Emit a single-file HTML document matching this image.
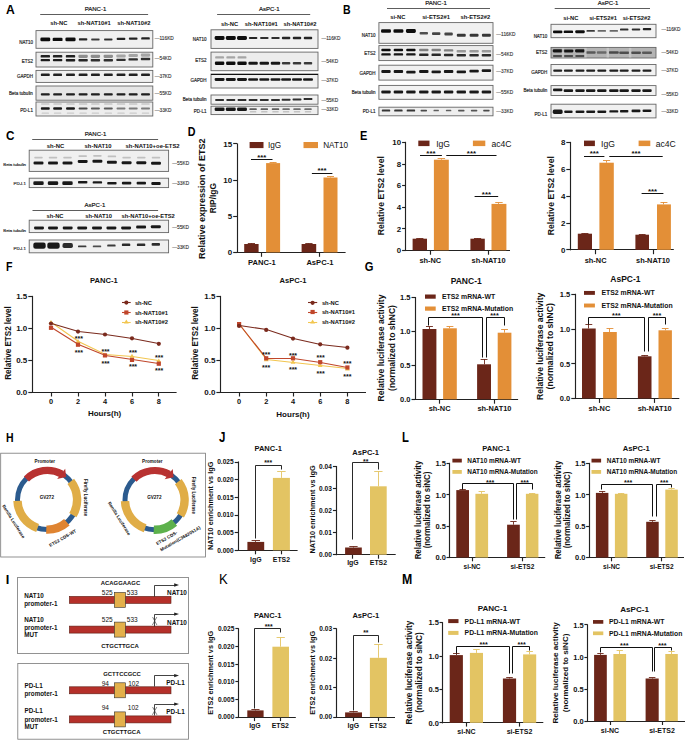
<!DOCTYPE html>
<html><head><meta charset="utf-8"><style>
html,body{margin:0;padding:0;background:#fff;}
svg{display:block;}
text{font-family:"Liberation Sans",sans-serif;}
</style></head><body>
<svg width="685" height="740" viewBox="0 0 685 740">
<rect width="685" height="740" fill="#fff"/>
<filter id="bl" x="-30%" y="-100%" width="160%" height="300%"><feGaussianBlur stdDeviation="0.65"/></filter>
<text x="95.50" y="10.76" font-size="6.0" font-weight="normal" text-anchor="middle" fill="#111" stroke="#111" stroke-width="0.18">PANC-1</text>
<line x1="40.20" y1="14.50" x2="148.10" y2="14.50" stroke="#333" stroke-width="0.8"/>
<text x="58.90" y="24.99" font-size="5.8" font-weight="bold" text-anchor="middle" fill="#111" >sh-NC</text>
<text x="94.10" y="24.99" font-size="5.8" font-weight="bold" text-anchor="middle" fill="#111" >sh-NAT10#1</text>
<text x="133.90" y="24.99" font-size="5.8" font-weight="bold" text-anchor="middle" fill="#111" >sh-NAT10#2</text>
<rect x="36.00" y="30.60" width="116.80" height="17.70" fill="#f0f0f0" stroke="#666" stroke-width="0.9" />
<rect x="40.35" y="37.60" width="9.90" height="3.60" rx="1.29" fill="#111" opacity="1" filter="url(#bl)"/>
<rect x="52.65" y="37.70" width="9.90" height="3.40" rx="1.21" fill="#111" opacity="1" filter="url(#bl)"/>
<rect x="65.40" y="37.50" width="10.20" height="3.80" rx="1.36" fill="#111" opacity="1" filter="url(#bl)"/>
<rect x="78.90" y="38.35" width="8.40" height="2.10" rx="0.75" fill="#111" opacity="0.9" filter="url(#bl)"/>
<rect x="91.20" y="38.40" width="8.40" height="2.00" rx="0.71" fill="#111" opacity="0.8" filter="url(#bl)"/>
<rect x="104.10" y="38.40" width="8.40" height="2.00" rx="0.71" fill="#111" opacity="0.85" filter="url(#bl)"/>
<rect x="116.70" y="37.80" width="8.60" height="2.20" rx="0.79" fill="#111" opacity="0.9" filter="url(#bl)"/>
<rect x="128.90" y="37.45" width="8.60" height="2.30" rx="0.82" fill="#111" opacity="0.9" filter="url(#bl)"/>
<rect x="141.20" y="37.20" width="8.60" height="2.40" rx="0.86" fill="#111" opacity="0.9" filter="url(#bl)"/>
<rect x="36.00" y="52.20" width="116.80" height="14.80" fill="#ececec" stroke="#666" stroke-width="0.9" />
<rect x="40.60" y="55.10" width="9.40" height="2.40" rx="0.86" fill="#222" opacity="1" filter="url(#bl)"/>
<rect x="52.90" y="55.10" width="9.40" height="2.40" rx="0.86" fill="#222" opacity="1" filter="url(#bl)"/>
<rect x="65.80" y="55.10" width="9.40" height="2.40" rx="0.86" fill="#222" opacity="1" filter="url(#bl)"/>
<rect x="78.40" y="54.70" width="9.40" height="3.20" rx="1.14" fill="#777" opacity="0.8" filter="url(#bl)"/>
<rect x="90.70" y="54.70" width="9.40" height="3.20" rx="1.14" fill="#777" opacity="0.8" filter="url(#bl)"/>
<rect x="103.60" y="54.70" width="9.40" height="3.20" rx="1.14" fill="#777" opacity="0.8" filter="url(#bl)"/>
<rect x="116.30" y="54.40" width="9.40" height="3.20" rx="1.14" fill="#888" opacity="0.7" filter="url(#bl)"/>
<rect x="128.50" y="53.90" width="9.40" height="3.20" rx="1.14" fill="#888" opacity="0.7" filter="url(#bl)"/>
<rect x="140.80" y="53.50" width="9.40" height="3.20" rx="1.14" fill="#888" opacity="0.7" filter="url(#bl)"/>
<rect x="40.60" y="59.10" width="9.40" height="2.20" rx="0.79" fill="#1a1a1a" opacity="1" filter="url(#bl)"/>
<rect x="52.90" y="59.10" width="9.40" height="2.20" rx="0.79" fill="#1a1a1a" opacity="1" filter="url(#bl)"/>
<rect x="65.80" y="59.00" width="9.40" height="2.40" rx="0.86" fill="#1a1a1a" opacity="1" filter="url(#bl)"/>
<rect x="78.40" y="59.00" width="9.40" height="2.40" rx="0.86" fill="#1a1a1a" opacity="0.95" filter="url(#bl)"/>
<rect x="90.70" y="59.00" width="9.40" height="2.40" rx="0.86" fill="#1a1a1a" opacity="0.9" filter="url(#bl)"/>
<rect x="103.60" y="59.00" width="9.40" height="2.40" rx="0.86" fill="#1a1a1a" opacity="0.9" filter="url(#bl)"/>
<rect x="116.30" y="58.80" width="9.40" height="2.20" rx="0.79" fill="#1a1a1a" opacity="0.9" filter="url(#bl)"/>
<rect x="128.50" y="58.20" width="9.40" height="2.40" rx="0.86" fill="#1a1a1a" opacity="0.9" filter="url(#bl)"/>
<rect x="140.80" y="57.80" width="9.40" height="2.40" rx="0.86" fill="#1a1a1a" opacity="0.9" filter="url(#bl)"/>
<rect x="36.00" y="70.40" width="116.80" height="12.00" fill="#f0f0f0" stroke="#666" stroke-width="0.9" />
<rect x="40.85" y="73.55" width="8.90" height="2.50" rx="0.89" fill="#151515" opacity="0.95" filter="url(#bl)"/>
<rect x="53.15" y="73.55" width="8.90" height="2.50" rx="0.89" fill="#151515" opacity="0.95" filter="url(#bl)"/>
<rect x="66.05" y="73.55" width="8.90" height="2.50" rx="0.89" fill="#151515" opacity="0.95" filter="url(#bl)"/>
<rect x="78.65" y="73.55" width="8.90" height="2.50" rx="0.89" fill="#151515" opacity="0.95" filter="url(#bl)"/>
<rect x="90.95" y="73.55" width="8.90" height="2.50" rx="0.89" fill="#151515" opacity="0.95" filter="url(#bl)"/>
<rect x="103.85" y="73.55" width="8.90" height="2.50" rx="0.89" fill="#151515" opacity="0.95" filter="url(#bl)"/>
<rect x="116.55" y="73.55" width="8.90" height="2.50" rx="0.89" fill="#151515" opacity="0.95" filter="url(#bl)"/>
<rect x="128.75" y="73.55" width="8.90" height="2.50" rx="0.89" fill="#151515" opacity="0.95" filter="url(#bl)"/>
<rect x="141.05" y="73.55" width="8.90" height="2.50" rx="0.89" fill="#151515" opacity="0.95" filter="url(#bl)"/>
<rect x="36.00" y="86.00" width="116.80" height="14.20" fill="#e6e6e6" stroke="#666" stroke-width="0.9" />
<rect x="40.85" y="93.15" width="8.90" height="2.30" rx="0.82" fill="#151515" opacity="0.95" filter="url(#bl)"/>
<rect x="53.15" y="93.15" width="8.90" height="2.30" rx="0.82" fill="#151515" opacity="0.95" filter="url(#bl)"/>
<rect x="66.05" y="93.15" width="8.90" height="2.30" rx="0.82" fill="#151515" opacity="0.95" filter="url(#bl)"/>
<rect x="78.65" y="93.15" width="8.90" height="2.30" rx="0.82" fill="#151515" opacity="0.95" filter="url(#bl)"/>
<rect x="90.95" y="93.15" width="8.90" height="2.30" rx="0.82" fill="#151515" opacity="0.95" filter="url(#bl)"/>
<rect x="103.85" y="93.15" width="8.90" height="2.30" rx="0.82" fill="#151515" opacity="0.95" filter="url(#bl)"/>
<rect x="116.55" y="93.15" width="8.90" height="2.30" rx="0.82" fill="#151515" opacity="0.95" filter="url(#bl)"/>
<rect x="128.75" y="93.15" width="8.90" height="2.30" rx="0.82" fill="#151515" opacity="0.95" filter="url(#bl)"/>
<rect x="141.05" y="93.15" width="8.90" height="2.30" rx="0.82" fill="#151515" opacity="0.95" filter="url(#bl)"/>
<rect x="36.00" y="102.00" width="116.80" height="14.00" fill="#ededed" stroke="#666" stroke-width="0.9" />
<rect x="41.10" y="103.25" width="8.40" height="1.50" rx="0.54" fill="#999" opacity="0.45" filter="url(#bl)"/>
<rect x="53.40" y="103.25" width="8.40" height="1.50" rx="0.54" fill="#999" opacity="0.45" filter="url(#bl)"/>
<rect x="66.30" y="103.25" width="8.40" height="1.50" rx="0.54" fill="#999" opacity="0.45" filter="url(#bl)"/>
<rect x="78.90" y="103.25" width="8.40" height="1.50" rx="0.54" fill="#999" opacity="0.45" filter="url(#bl)"/>
<rect x="91.20" y="103.25" width="8.40" height="1.50" rx="0.54" fill="#999" opacity="0.45" filter="url(#bl)"/>
<rect x="104.10" y="103.25" width="8.40" height="1.50" rx="0.54" fill="#999" opacity="0.45" filter="url(#bl)"/>
<rect x="116.80" y="103.25" width="8.40" height="1.50" rx="0.54" fill="#999" opacity="0.45" filter="url(#bl)"/>
<rect x="129.00" y="103.25" width="8.40" height="1.50" rx="0.54" fill="#999" opacity="0.45" filter="url(#bl)"/>
<rect x="141.30" y="103.25" width="8.40" height="1.50" rx="0.54" fill="#999" opacity="0.45" filter="url(#bl)"/>
<rect x="40.85" y="107.20" width="8.90" height="2.60" rx="0.93" fill="#111" opacity="0.95" filter="url(#bl)"/>
<rect x="53.15" y="107.20" width="8.90" height="2.60" rx="0.93" fill="#111" opacity="0.95" filter="url(#bl)"/>
<rect x="66.05" y="107.20" width="8.90" height="2.60" rx="0.93" fill="#111" opacity="0.95" filter="url(#bl)"/>
<rect x="78.65" y="107.40" width="8.90" height="2.20" rx="0.79" fill="#444" opacity="0.95" filter="url(#bl)"/>
<rect x="90.95" y="107.40" width="8.90" height="2.20" rx="0.79" fill="#555" opacity="0.95" filter="url(#bl)"/>
<rect x="103.85" y="107.40" width="8.90" height="2.20" rx="0.79" fill="#555" opacity="0.95" filter="url(#bl)"/>
<rect x="116.55" y="107.50" width="8.90" height="2.00" rx="0.71" fill="#777" opacity="0.95" filter="url(#bl)"/>
<rect x="128.75" y="107.50" width="8.90" height="2.00" rx="0.71" fill="#777" opacity="0.95" filter="url(#bl)"/>
<rect x="141.05" y="107.50" width="8.90" height="2.00" rx="0.71" fill="#777" opacity="0.95" filter="url(#bl)"/>
<rect x="41.60" y="112.55" width="7.40" height="1.30" rx="0.46" fill="#999" opacity="0.4" filter="url(#bl)"/>
<rect x="53.90" y="112.55" width="7.40" height="1.30" rx="0.46" fill="#999" opacity="0.4" filter="url(#bl)"/>
<rect x="66.80" y="112.55" width="7.40" height="1.30" rx="0.46" fill="#999" opacity="0.4" filter="url(#bl)"/>
<rect x="79.40" y="112.55" width="7.40" height="1.30" rx="0.46" fill="#999" opacity="0.4" filter="url(#bl)"/>
<rect x="91.70" y="112.55" width="7.40" height="1.30" rx="0.46" fill="#999" opacity="0.4" filter="url(#bl)"/>
<rect x="104.60" y="112.55" width="7.40" height="1.30" rx="0.46" fill="#999" opacity="0.4" filter="url(#bl)"/>
<rect x="117.30" y="112.55" width="7.40" height="1.30" rx="0.46" fill="#999" opacity="0.4" filter="url(#bl)"/>
<rect x="129.50" y="112.55" width="7.40" height="1.30" rx="0.46" fill="#999" opacity="0.4" filter="url(#bl)"/>
<rect x="141.80" y="112.55" width="7.40" height="1.30" rx="0.46" fill="#999" opacity="0.4" filter="url(#bl)"/>
<text x="32.90" y="43.82" font-size="4.5" font-weight="normal" text-anchor="end" fill="#222" stroke="#222" stroke-width="0.16">NAT10</text>
<text x="32.90" y="62.62" font-size="4.5" font-weight="normal" text-anchor="end" fill="#222" stroke="#222" stroke-width="0.16">ETS2</text>
<text x="32.90" y="78.12" font-size="4.5" font-weight="normal" text-anchor="end" fill="#222" stroke="#222" stroke-width="0.16">GAPDH</text>
<text x="32.90" y="95.12" font-size="4.5" font-weight="normal" text-anchor="end" fill="#222" stroke="#222" stroke-width="0.16">Beta tubulin</text>
<text x="32.90" y="112.22" font-size="4.5" font-weight="normal" text-anchor="end" fill="#222" stroke="#222" stroke-width="0.16">PD-L1</text>
<text x="154.70" y="40.43" font-size="4.8" font-weight="normal" text-anchor="start" fill="#333" stroke="#333" stroke-width="0.12">—116KD</text>
<text x="154.70" y="59.93" font-size="4.8" font-weight="normal" text-anchor="start" fill="#333" stroke="#333" stroke-width="0.12">—54KD</text>
<text x="154.70" y="77.83" font-size="4.8" font-weight="normal" text-anchor="start" fill="#333" stroke="#333" stroke-width="0.12">—37KD</text>
<text x="154.70" y="95.23" font-size="4.8" font-weight="normal" text-anchor="start" fill="#333" stroke="#333" stroke-width="0.12">—55KD</text>
<text x="154.70" y="111.53" font-size="4.8" font-weight="normal" text-anchor="start" fill="#333" stroke="#333" stroke-width="0.12">—33KD</text>
<text x="269.30" y="10.56" font-size="6.0" font-weight="normal" text-anchor="middle" fill="#111" stroke="#111" stroke-width="0.18">AsPC-1</text>
<line x1="217.10" y1="14.50" x2="310.20" y2="14.50" stroke="#333" stroke-width="0.8"/>
<text x="229.60" y="26.09" font-size="5.8" font-weight="bold" text-anchor="middle" fill="#111" >sh-NC</text>
<text x="261.30" y="26.09" font-size="5.8" font-weight="bold" text-anchor="middle" fill="#111" >sh-NAT10#1</text>
<text x="300.00" y="26.09" font-size="5.8" font-weight="bold" text-anchor="middle" fill="#111" >sh-NAT10#2</text>
<rect x="211.00" y="29.80" width="107.00" height="18.60" fill="#f0f0f0" stroke="#666" stroke-width="0.9" />
<rect x="214.65" y="36.00" width="9.90" height="4.00" rx="1.43" fill="#111" opacity="1" filter="url(#bl)"/>
<rect x="225.85" y="36.00" width="9.90" height="4.00" rx="1.43" fill="#111" opacity="1" filter="url(#bl)"/>
<rect x="237.05" y="36.00" width="9.90" height="4.00" rx="1.43" fill="#111" opacity="1" filter="url(#bl)"/>
<rect x="248.90" y="36.90" width="8.40" height="2.20" rx="0.79" fill="#111" opacity="0.9" filter="url(#bl)"/>
<rect x="260.10" y="36.90" width="8.40" height="2.20" rx="0.79" fill="#111" opacity="0.85" filter="url(#bl)"/>
<rect x="271.30" y="36.90" width="8.40" height="2.20" rx="0.79" fill="#111" opacity="0.85" filter="url(#bl)"/>
<rect x="281.90" y="36.80" width="8.40" height="2.40" rx="0.86" fill="#111" opacity="0.9" filter="url(#bl)"/>
<rect x="292.80" y="36.80" width="8.40" height="2.40" rx="0.86" fill="#111" opacity="0.9" filter="url(#bl)"/>
<rect x="303.80" y="36.80" width="8.40" height="2.40" rx="0.86" fill="#111" opacity="0.9" filter="url(#bl)"/>
<rect x="211.00" y="52.10" width="107.00" height="18.60" fill="#ededed" stroke="#666" stroke-width="0.9" />
<rect x="215.15" y="56.20" width="8.90" height="2.40" rx="0.86" fill="#888" opacity="0.7" filter="url(#bl)"/>
<rect x="226.35" y="56.20" width="8.90" height="2.40" rx="0.86" fill="#888" opacity="0.7" filter="url(#bl)"/>
<rect x="237.55" y="56.20" width="8.90" height="2.40" rx="0.86" fill="#888" opacity="0.7" filter="url(#bl)"/>
<rect x="214.90" y="61.50" width="9.40" height="3.40" rx="1.21" fill="#111" opacity="1" filter="url(#bl)"/>
<rect x="226.10" y="61.50" width="9.40" height="3.40" rx="1.21" fill="#111" opacity="1" filter="url(#bl)"/>
<rect x="237.30" y="61.50" width="9.40" height="3.40" rx="1.21" fill="#111" opacity="1" filter="url(#bl)"/>
<rect x="248.40" y="61.70" width="9.40" height="3.00" rx="1.07" fill="#111" opacity="0.95" filter="url(#bl)"/>
<rect x="259.60" y="61.70" width="9.40" height="3.00" rx="1.07" fill="#111" opacity="0.95" filter="url(#bl)"/>
<rect x="270.80" y="61.70" width="9.40" height="3.00" rx="1.07" fill="#111" opacity="0.95" filter="url(#bl)"/>
<rect x="281.90" y="61.90" width="8.40" height="2.60" rx="0.93" fill="#111" opacity="0.8" filter="url(#bl)"/>
<rect x="292.80" y="61.90" width="8.40" height="2.60" rx="0.93" fill="#111" opacity="0.8" filter="url(#bl)"/>
<rect x="303.80" y="61.90" width="8.40" height="2.60" rx="0.93" fill="#111" opacity="0.8" filter="url(#bl)"/>
<rect x="211.00" y="74.00" width="107.00" height="14.00" fill="#f0f0f0" stroke="#666" stroke-width="0.9" />
<line x1="211.00" y1="74.50" x2="318.00" y2="74.50" stroke="#111" stroke-width="1.2"/>
<rect x="214.65" y="77.90" width="9.90" height="3.00" rx="1.07" fill="#111" opacity="0.95" filter="url(#bl)"/>
<rect x="225.85" y="77.90" width="9.90" height="3.00" rx="1.07" fill="#111" opacity="0.95" filter="url(#bl)"/>
<rect x="237.05" y="77.90" width="9.90" height="3.00" rx="1.07" fill="#111" opacity="0.95" filter="url(#bl)"/>
<rect x="248.15" y="78.15" width="9.90" height="2.50" rx="0.89" fill="#111" opacity="0.95" filter="url(#bl)"/>
<rect x="259.35" y="78.15" width="9.90" height="2.50" rx="0.89" fill="#111" opacity="0.95" filter="url(#bl)"/>
<rect x="270.55" y="78.15" width="9.90" height="2.50" rx="0.89" fill="#111" opacity="0.95" filter="url(#bl)"/>
<rect x="281.15" y="78.15" width="9.90" height="2.50" rx="0.89" fill="#111" opacity="0.95" filter="url(#bl)"/>
<rect x="292.05" y="78.15" width="9.90" height="2.50" rx="0.89" fill="#111" opacity="0.95" filter="url(#bl)"/>
<rect x="303.05" y="78.15" width="9.90" height="2.50" rx="0.89" fill="#111" opacity="0.95" filter="url(#bl)"/>
<rect x="211.00" y="95.00" width="107.00" height="9.20" fill="#f2f2f2" stroke="#666" stroke-width="0.9" />
<rect x="215.15" y="99.00" width="8.90" height="2.00" rx="0.71" fill="#1a1a1a" opacity="0.9" filter="url(#bl)"/>
<rect x="226.35" y="99.00" width="8.90" height="2.00" rx="0.71" fill="#1a1a1a" opacity="0.9" filter="url(#bl)"/>
<rect x="237.55" y="99.00" width="8.90" height="2.00" rx="0.71" fill="#1a1a1a" opacity="0.9" filter="url(#bl)"/>
<rect x="248.65" y="99.00" width="8.90" height="2.00" rx="0.71" fill="#1a1a1a" opacity="0.9" filter="url(#bl)"/>
<rect x="259.85" y="99.00" width="8.90" height="2.00" rx="0.71" fill="#1a1a1a" opacity="0.9" filter="url(#bl)"/>
<rect x="271.05" y="99.00" width="8.90" height="2.00" rx="0.71" fill="#1a1a1a" opacity="0.9" filter="url(#bl)"/>
<rect x="281.65" y="98.70" width="8.90" height="2.00" rx="0.71" fill="#1a1a1a" opacity="0.9" filter="url(#bl)"/>
<rect x="292.55" y="98.50" width="8.90" height="2.00" rx="0.71" fill="#1a1a1a" opacity="0.9" filter="url(#bl)"/>
<rect x="303.55" y="98.00" width="8.90" height="2.00" rx="0.71" fill="#1a1a1a" opacity="0.9" filter="url(#bl)"/>
<rect x="211.00" y="106.20" width="107.00" height="8.40" fill="#eeeeee" stroke="#666" stroke-width="0.9" />
<rect x="214.65" y="107.40" width="9.90" height="3.60" rx="1.29" fill="#111" opacity="0.95" filter="url(#bl)"/>
<rect x="225.85" y="107.40" width="9.90" height="3.60" rx="1.29" fill="#111" opacity="0.95" filter="url(#bl)"/>
<rect x="237.05" y="107.40" width="9.90" height="3.60" rx="1.29" fill="#111" opacity="0.95" filter="url(#bl)"/>
<rect x="249.40" y="108.35" width="7.40" height="1.70" rx="0.61" fill="#555" opacity="0.95" filter="url(#bl)"/>
<rect x="260.60" y="108.35" width="7.40" height="1.70" rx="0.61" fill="#555" opacity="0.95" filter="url(#bl)"/>
<rect x="271.80" y="108.35" width="7.40" height="1.70" rx="0.61" fill="#555" opacity="0.95" filter="url(#bl)"/>
<rect x="282.40" y="108.35" width="7.40" height="1.70" rx="0.61" fill="#666" opacity="0.95" filter="url(#bl)"/>
<rect x="293.30" y="108.35" width="7.40" height="1.70" rx="0.61" fill="#666" opacity="0.95" filter="url(#bl)"/>
<rect x="304.30" y="108.35" width="7.40" height="1.70" rx="0.61" fill="#666" opacity="0.95" filter="url(#bl)"/>
<rect x="249.90" y="111.10" width="6.40" height="1.40" rx="0.50" fill="#999" opacity="0.5" filter="url(#bl)"/>
<rect x="261.10" y="111.10" width="6.40" height="1.40" rx="0.50" fill="#999" opacity="0.5" filter="url(#bl)"/>
<rect x="272.30" y="111.10" width="6.40" height="1.40" rx="0.50" fill="#999" opacity="0.5" filter="url(#bl)"/>
<rect x="282.90" y="111.10" width="6.40" height="1.40" rx="0.50" fill="#999" opacity="0.5" filter="url(#bl)"/>
<rect x="293.80" y="111.10" width="6.40" height="1.40" rx="0.50" fill="#999" opacity="0.5" filter="url(#bl)"/>
<rect x="304.80" y="111.10" width="6.40" height="1.40" rx="0.50" fill="#999" opacity="0.5" filter="url(#bl)"/>
<text x="206.50" y="40.62" font-size="4.5" font-weight="normal" text-anchor="end" fill="#222" stroke="#222" stroke-width="0.16">NAT10</text>
<text x="206.50" y="62.42" font-size="4.5" font-weight="normal" text-anchor="end" fill="#222" stroke="#222" stroke-width="0.16">ETS2</text>
<text x="206.50" y="81.52" font-size="4.5" font-weight="normal" text-anchor="end" fill="#222" stroke="#222" stroke-width="0.16">GAPDH</text>
<text x="206.50" y="101.42" font-size="4.5" font-weight="normal" text-anchor="end" fill="#222" stroke="#222" stroke-width="0.16">Beta tubulin</text>
<text x="206.50" y="112.52" font-size="4.5" font-weight="normal" text-anchor="end" fill="#222" stroke="#222" stroke-width="0.16">PD-L1</text>
<text x="321.40" y="39.73" font-size="4.8" font-weight="normal" text-anchor="start" fill="#333" stroke="#333" stroke-width="0.12">—116KD</text>
<text x="321.40" y="62.53" font-size="4.8" font-weight="normal" text-anchor="start" fill="#333" stroke="#333" stroke-width="0.12">—54KD</text>
<text x="321.40" y="82.33" font-size="4.8" font-weight="normal" text-anchor="start" fill="#333" stroke="#333" stroke-width="0.12">—37KD</text>
<text x="321.40" y="102.23" font-size="4.8" font-weight="normal" text-anchor="start" fill="#333" stroke="#333" stroke-width="0.12">—55KD</text>
<text x="321.40" y="110.93" font-size="4.8" font-weight="normal" text-anchor="start" fill="#333" stroke="#333" stroke-width="0.12">—33KD</text>
<text x="436.00" y="4.76" font-size="6.0" font-weight="normal" text-anchor="middle" fill="#111" stroke="#111" stroke-width="0.18">PANC-1</text>
<line x1="387.00" y1="8.50" x2="490.00" y2="8.50" stroke="#333" stroke-width="0.8"/>
<text x="397.80" y="19.09" font-size="5.8" font-weight="bold" text-anchor="middle" fill="#111" >si-NC</text>
<text x="436.00" y="19.09" font-size="5.8" font-weight="bold" text-anchor="middle" fill="#111" >si-ETS2#1</text>
<text x="475.30" y="19.09" font-size="5.8" font-weight="bold" text-anchor="middle" fill="#111" >sh-ETS2#2</text>
<rect x="378.90" y="22.60" width="114.10" height="20.70" fill="#f0f0f0" stroke="#666" stroke-width="0.9" />
<rect x="381.05" y="29.20" width="9.90" height="3.60" rx="1.29" fill="#111" opacity="1" filter="url(#bl)"/>
<rect x="393.45" y="29.30" width="9.90" height="3.40" rx="1.21" fill="#111" opacity="1" filter="url(#bl)"/>
<rect x="405.95" y="29.10" width="9.90" height="3.80" rx="1.36" fill="#111" opacity="1" filter="url(#bl)"/>
<rect x="419.60" y="31.90" width="8.40" height="2.60" rx="0.93" fill="#333" opacity="0.85" filter="url(#bl)"/>
<rect x="432.00" y="32.30" width="8.40" height="2.60" rx="0.93" fill="#333" opacity="0.9" filter="url(#bl)"/>
<rect x="444.40" y="32.60" width="8.40" height="2.80" rx="1.00" fill="#333" opacity="0.9" filter="url(#bl)"/>
<rect x="456.85" y="33.70" width="8.90" height="3.00" rx="1.07" fill="#222" opacity="0.9" filter="url(#bl)"/>
<rect x="469.65" y="33.80" width="8.90" height="3.00" rx="1.07" fill="#222" opacity="0.9" filter="url(#bl)"/>
<rect x="481.95" y="33.80" width="8.90" height="3.00" rx="1.07" fill="#222" opacity="0.9" filter="url(#bl)"/>
<rect x="378.90" y="45.60" width="114.10" height="15.00" fill="#ececec" stroke="#666" stroke-width="0.9" />
<rect x="381.30" y="48.70" width="9.40" height="2.60" rx="0.93" fill="#111" opacity="1" filter="url(#bl)"/>
<rect x="393.70" y="48.70" width="9.40" height="2.60" rx="0.93" fill="#111" opacity="1" filter="url(#bl)"/>
<rect x="406.20" y="48.70" width="9.40" height="2.60" rx="0.93" fill="#111" opacity="1" filter="url(#bl)"/>
<rect x="419.10" y="48.80" width="9.40" height="2.40" rx="0.86" fill="#666" opacity="0.8" filter="url(#bl)"/>
<rect x="431.50" y="48.80" width="9.40" height="2.40" rx="0.86" fill="#666" opacity="0.8" filter="url(#bl)"/>
<rect x="443.90" y="49.20" width="9.40" height="2.40" rx="0.86" fill="#666" opacity="0.8" filter="url(#bl)"/>
<rect x="456.60" y="50.00" width="9.40" height="2.40" rx="0.86" fill="#777" opacity="0.7" filter="url(#bl)"/>
<rect x="469.40" y="50.00" width="9.40" height="2.40" rx="0.86" fill="#777" opacity="0.7" filter="url(#bl)"/>
<rect x="481.70" y="50.00" width="9.40" height="2.40" rx="0.86" fill="#777" opacity="0.7" filter="url(#bl)"/>
<rect x="381.30" y="53.20" width="9.40" height="2.40" rx="0.86" fill="#151515" opacity="1" filter="url(#bl)"/>
<rect x="393.70" y="53.20" width="9.40" height="2.40" rx="0.86" fill="#151515" opacity="1" filter="url(#bl)"/>
<rect x="406.20" y="53.20" width="9.40" height="2.40" rx="0.86" fill="#151515" opacity="1" filter="url(#bl)"/>
<rect x="419.10" y="53.60" width="9.40" height="2.40" rx="0.86" fill="#151515" opacity="0.9" filter="url(#bl)"/>
<rect x="431.50" y="53.60" width="9.40" height="2.40" rx="0.86" fill="#151515" opacity="0.9" filter="url(#bl)"/>
<rect x="443.90" y="53.80" width="9.40" height="2.40" rx="0.86" fill="#151515" opacity="0.9" filter="url(#bl)"/>
<rect x="456.60" y="54.00" width="9.40" height="2.40" rx="0.86" fill="#151515" opacity="0.9" filter="url(#bl)"/>
<rect x="469.40" y="54.00" width="9.40" height="2.40" rx="0.86" fill="#151515" opacity="0.9" filter="url(#bl)"/>
<rect x="481.70" y="54.00" width="9.40" height="2.40" rx="0.86" fill="#151515" opacity="0.9" filter="url(#bl)"/>
<rect x="378.90" y="65.20" width="114.10" height="14.90" fill="#f0f0f0" stroke="#666" stroke-width="0.9" />
<rect x="381.30" y="70.10" width="9.40" height="2.80" rx="1.00" fill="#111" opacity="0.95" filter="url(#bl)"/>
<rect x="393.70" y="70.10" width="9.40" height="2.80" rx="1.00" fill="#111" opacity="0.95" filter="url(#bl)"/>
<rect x="406.20" y="70.70" width="9.40" height="2.80" rx="1.00" fill="#111" opacity="0.95" filter="url(#bl)"/>
<rect x="419.10" y="70.10" width="9.40" height="2.80" rx="1.00" fill="#111" opacity="0.95" filter="url(#bl)"/>
<rect x="431.50" y="70.50" width="9.40" height="2.80" rx="1.00" fill="#111" opacity="0.95" filter="url(#bl)"/>
<rect x="443.90" y="70.10" width="9.40" height="2.80" rx="1.00" fill="#111" opacity="0.95" filter="url(#bl)"/>
<rect x="456.60" y="70.50" width="9.40" height="2.80" rx="1.00" fill="#111" opacity="0.95" filter="url(#bl)"/>
<rect x="469.40" y="69.70" width="9.40" height="2.80" rx="1.00" fill="#111" opacity="0.95" filter="url(#bl)"/>
<rect x="481.70" y="69.30" width="9.40" height="2.80" rx="1.00" fill="#111" opacity="0.95" filter="url(#bl)"/>
<rect x="378.90" y="85.40" width="114.10" height="13.90" fill="#f2f2f2" stroke="#666" stroke-width="0.9" />
<rect x="381.30" y="90.60" width="9.40" height="2.80" rx="1.00" fill="#111" opacity="0.95" filter="url(#bl)"/>
<rect x="393.70" y="90.60" width="9.40" height="2.80" rx="1.00" fill="#111" opacity="0.95" filter="url(#bl)"/>
<rect x="406.20" y="90.60" width="9.40" height="2.80" rx="1.00" fill="#111" opacity="0.95" filter="url(#bl)"/>
<rect x="419.10" y="90.60" width="9.40" height="2.80" rx="1.00" fill="#111" opacity="0.95" filter="url(#bl)"/>
<rect x="431.50" y="90.60" width="9.40" height="2.80" rx="1.00" fill="#111" opacity="0.95" filter="url(#bl)"/>
<rect x="443.90" y="90.60" width="9.40" height="2.80" rx="1.00" fill="#111" opacity="0.95" filter="url(#bl)"/>
<rect x="456.60" y="90.60" width="9.40" height="2.80" rx="1.00" fill="#111" opacity="0.95" filter="url(#bl)"/>
<rect x="469.40" y="90.60" width="9.40" height="2.80" rx="1.00" fill="#111" opacity="0.95" filter="url(#bl)"/>
<rect x="481.70" y="90.60" width="9.40" height="2.80" rx="1.00" fill="#111" opacity="0.95" filter="url(#bl)"/>
<rect x="378.90" y="107.20" width="114.10" height="8.60" fill="#eeeeee" stroke="#666" stroke-width="0.9" />
<rect x="381.80" y="109.60" width="8.40" height="2.00" rx="0.71" fill="#222" opacity="0.9" filter="url(#bl)"/>
<rect x="394.20" y="109.60" width="8.40" height="2.00" rx="0.71" fill="#222" opacity="0.9" filter="url(#bl)"/>
<rect x="406.70" y="109.60" width="8.40" height="2.00" rx="0.71" fill="#222" opacity="0.9" filter="url(#bl)"/>
<rect x="420.60" y="109.70" width="6.40" height="1.80" rx="0.64" fill="#222" opacity="0.8" filter="url(#bl)"/>
<rect x="433.50" y="109.85" width="5.40" height="1.50" rx="0.54" fill="#222" opacity="0.7" filter="url(#bl)"/>
<rect x="445.90" y="109.85" width="5.40" height="1.50" rx="0.54" fill="#222" opacity="0.7" filter="url(#bl)"/>
<rect x="458.10" y="109.75" width="6.40" height="1.70" rx="0.61" fill="#222" opacity="0.75" filter="url(#bl)"/>
<rect x="470.90" y="109.75" width="6.40" height="1.70" rx="0.61" fill="#222" opacity="0.75" filter="url(#bl)"/>
<rect x="483.20" y="109.75" width="6.40" height="1.70" rx="0.61" fill="#222" opacity="0.8" filter="url(#bl)"/>
<text x="375.50" y="37.12" font-size="4.5" font-weight="normal" text-anchor="end" fill="#222" stroke="#222" stroke-width="0.16">NAT10</text>
<text x="375.50" y="54.92" font-size="4.5" font-weight="normal" text-anchor="end" fill="#222" stroke="#222" stroke-width="0.16">ETS2</text>
<text x="375.50" y="75.22" font-size="4.5" font-weight="normal" text-anchor="end" fill="#222" stroke="#222" stroke-width="0.16">GAPDH</text>
<text x="375.50" y="94.32" font-size="4.5" font-weight="normal" text-anchor="end" fill="#222" stroke="#222" stroke-width="0.16">Beta tubulin</text>
<text x="375.50" y="112.52" font-size="4.5" font-weight="normal" text-anchor="end" fill="#222" stroke="#222" stroke-width="0.16">PD-L1</text>
<text x="496.30" y="35.93" font-size="4.8" font-weight="normal" text-anchor="start" fill="#333" stroke="#333" stroke-width="0.12">—116KD</text>
<text x="496.30" y="56.43" font-size="4.8" font-weight="normal" text-anchor="start" fill="#333" stroke="#333" stroke-width="0.12">—54KD</text>
<text x="496.30" y="73.23" font-size="4.8" font-weight="normal" text-anchor="start" fill="#333" stroke="#333" stroke-width="0.12">—37KD</text>
<text x="496.30" y="94.23" font-size="4.8" font-weight="normal" text-anchor="start" fill="#333" stroke="#333" stroke-width="0.12">—55KD</text>
<text x="496.30" y="113.43" font-size="4.8" font-weight="normal" text-anchor="start" fill="#333" stroke="#333" stroke-width="0.12">—33KD</text>
<text x="608.00" y="4.76" font-size="6.0" font-weight="normal" text-anchor="middle" fill="#111" stroke="#111" stroke-width="0.18">AsPC-1</text>
<line x1="554.70" y1="8.50" x2="650.00" y2="8.50" stroke="#333" stroke-width="0.8"/>
<text x="570.80" y="19.99" font-size="5.8" font-weight="bold" text-anchor="middle" fill="#111" >si-NC</text>
<text x="603.00" y="19.99" font-size="5.8" font-weight="bold" text-anchor="middle" fill="#111" >si-ETS2#1</text>
<text x="636.60" y="19.99" font-size="5.8" font-weight="bold" text-anchor="middle" fill="#111" >si-ETS2#2</text>
<rect x="551.00" y="24.30" width="105.00" height="13.40" fill="#f2f2f2" stroke="#666" stroke-width="0.9" />
<rect x="553.00" y="30.40" width="9.40" height="2.80" rx="1.00" fill="#111" opacity="1" filter="url(#bl)"/>
<rect x="563.70" y="30.50" width="9.40" height="2.60" rx="0.93" fill="#111" opacity="1" filter="url(#bl)"/>
<rect x="575.30" y="30.30" width="9.40" height="3.00" rx="1.07" fill="#111" opacity="1" filter="url(#bl)"/>
<rect x="586.50" y="30.00" width="8.40" height="1.80" rx="0.64" fill="#111" opacity="0.8" filter="url(#bl)"/>
<rect x="597.60" y="30.00" width="8.40" height="1.80" rx="0.64" fill="#111" opacity="0.6" filter="url(#bl)"/>
<rect x="609.60" y="30.00" width="8.40" height="1.80" rx="0.64" fill="#111" opacity="0.6" filter="url(#bl)"/>
<rect x="620.00" y="28.60" width="8.40" height="2.00" rx="0.71" fill="#111" opacity="0.85" filter="url(#bl)"/>
<rect x="631.80" y="28.40" width="8.40" height="2.00" rx="0.71" fill="#111" opacity="0.85" filter="url(#bl)"/>
<rect x="642.80" y="28.10" width="8.40" height="2.20" rx="0.79" fill="#111" opacity="0.9" filter="url(#bl)"/>
<rect x="551.00" y="47.40" width="105.00" height="10.60" fill="#b4b4b4" stroke="#666" stroke-width="0.9" />
<rect x="552.75" y="49.30" width="9.90" height="3.20" rx="1.14" fill="#111" opacity="0.95" filter="url(#bl)"/>
<rect x="563.45" y="49.40" width="9.90" height="3.00" rx="1.07" fill="#111" opacity="0.95" filter="url(#bl)"/>
<rect x="575.05" y="49.30" width="9.90" height="3.20" rx="1.14" fill="#111" opacity="0.95" filter="url(#bl)"/>
<rect x="585.75" y="51.30" width="9.90" height="2.40" rx="0.86" fill="#555" opacity="0.95" filter="url(#bl)"/>
<rect x="596.85" y="51.30" width="9.90" height="2.40" rx="0.86" fill="#666" opacity="0.95" filter="url(#bl)"/>
<rect x="608.85" y="51.30" width="9.90" height="2.40" rx="0.86" fill="#444" opacity="0.95" filter="url(#bl)"/>
<rect x="619.25" y="51.40" width="9.90" height="2.60" rx="0.93" fill="#4a4a4a" opacity="0.95" filter="url(#bl)"/>
<rect x="631.05" y="51.40" width="9.90" height="2.60" rx="0.93" fill="#4a4a4a" opacity="0.95" filter="url(#bl)"/>
<rect x="642.05" y="51.40" width="9.90" height="2.60" rx="0.93" fill="#555" opacity="0.95" filter="url(#bl)"/>
<rect x="553.00" y="55.10" width="9.40" height="1.80" rx="0.64" fill="#333" opacity="0.8" filter="url(#bl)"/>
<rect x="563.70" y="55.10" width="9.40" height="1.80" rx="0.64" fill="#333" opacity="0.8" filter="url(#bl)"/>
<rect x="575.30" y="55.10" width="9.40" height="1.80" rx="0.64" fill="#333" opacity="0.8" filter="url(#bl)"/>
<rect x="561.80" y="47.90" width="2.40" height="9.60" fill="#cfcfcf" stroke="none" stroke-width="0" opacity="0.7" filter="url(#bl)"/>
<rect x="584.20" y="47.90" width="2.40" height="9.60" fill="#cfcfcf" stroke="none" stroke-width="0" opacity="0.7" filter="url(#bl)"/>
<rect x="606.60" y="47.90" width="2.40" height="9.60" fill="#cfcfcf" stroke="none" stroke-width="0" opacity="0.7" filter="url(#bl)"/>
<rect x="628.90" y="47.90" width="2.40" height="9.60" fill="#cfcfcf" stroke="none" stroke-width="0" opacity="0.7" filter="url(#bl)"/>
<rect x="551.00" y="64.50" width="105.00" height="11.20" fill="#f2f2f2" stroke="#666" stroke-width="0.9" />
<rect x="553.25" y="69.55" width="8.90" height="2.30" rx="0.82" fill="#151515" opacity="0.95" filter="url(#bl)"/>
<rect x="563.95" y="69.55" width="8.90" height="2.30" rx="0.82" fill="#151515" opacity="0.95" filter="url(#bl)"/>
<rect x="575.55" y="69.55" width="8.90" height="2.30" rx="0.82" fill="#151515" opacity="0.95" filter="url(#bl)"/>
<rect x="586.25" y="69.55" width="8.90" height="2.30" rx="0.82" fill="#151515" opacity="0.95" filter="url(#bl)"/>
<rect x="597.35" y="69.55" width="8.90" height="2.30" rx="0.82" fill="#151515" opacity="0.95" filter="url(#bl)"/>
<rect x="609.35" y="69.55" width="8.90" height="2.30" rx="0.82" fill="#151515" opacity="0.95" filter="url(#bl)"/>
<rect x="619.75" y="69.55" width="8.90" height="2.30" rx="0.82" fill="#151515" opacity="0.95" filter="url(#bl)"/>
<rect x="631.55" y="69.55" width="8.90" height="2.30" rx="0.82" fill="#151515" opacity="0.95" filter="url(#bl)"/>
<rect x="642.55" y="69.55" width="8.90" height="2.30" rx="0.82" fill="#151515" opacity="0.95" filter="url(#bl)"/>
<rect x="551.00" y="85.60" width="105.00" height="9.90" fill="#f2f2f2" stroke="#666" stroke-width="0.9" />
<rect x="553.00" y="88.40" width="9.40" height="2.80" rx="1.00" fill="#111" opacity="0.95" filter="url(#bl)"/>
<rect x="563.70" y="89.20" width="9.40" height="2.80" rx="1.00" fill="#111" opacity="0.95" filter="url(#bl)"/>
<rect x="575.30" y="89.20" width="9.40" height="2.80" rx="1.00" fill="#111" opacity="0.95" filter="url(#bl)"/>
<rect x="586.00" y="89.20" width="9.40" height="2.80" rx="1.00" fill="#111" opacity="0.95" filter="url(#bl)"/>
<rect x="597.10" y="89.20" width="9.40" height="2.80" rx="1.00" fill="#111" opacity="0.95" filter="url(#bl)"/>
<rect x="609.10" y="89.20" width="9.40" height="2.80" rx="1.00" fill="#111" opacity="0.95" filter="url(#bl)"/>
<rect x="619.50" y="89.20" width="9.40" height="2.80" rx="1.00" fill="#111" opacity="0.95" filter="url(#bl)"/>
<rect x="631.30" y="89.20" width="9.40" height="2.80" rx="1.00" fill="#111" opacity="0.95" filter="url(#bl)"/>
<rect x="642.30" y="89.20" width="9.40" height="2.80" rx="1.00" fill="#111" opacity="0.95" filter="url(#bl)"/>
<rect x="551.00" y="104.20" width="105.00" height="13.70" fill="#f0f0f0" stroke="#666" stroke-width="0.9" />
<rect x="552.75" y="109.50" width="9.90" height="4.40" rx="1.57" fill="#111" opacity="0.95" filter="url(#bl)"/>
<rect x="564.20" y="110.40" width="8.40" height="2.60" rx="0.93" fill="#111" opacity="0.95" filter="url(#bl)"/>
<rect x="575.55" y="110.40" width="8.90" height="2.60" rx="0.93" fill="#111" opacity="0.95" filter="url(#bl)"/>
<rect x="586.25" y="110.50" width="8.90" height="2.40" rx="0.86" fill="#111" opacity="0.95" filter="url(#bl)"/>
<rect x="597.35" y="110.50" width="8.90" height="2.40" rx="0.86" fill="#111" opacity="0.95" filter="url(#bl)"/>
<rect x="609.35" y="110.20" width="8.90" height="2.40" rx="0.86" fill="#111" opacity="0.95" filter="url(#bl)"/>
<rect x="620.00" y="110.00" width="8.40" height="2.40" rx="0.86" fill="#111" opacity="0.95" filter="url(#bl)"/>
<rect x="631.55" y="109.60" width="8.90" height="2.60" rx="0.93" fill="#111" opacity="0.95" filter="url(#bl)"/>
<rect x="642.55" y="109.40" width="8.90" height="2.60" rx="0.93" fill="#111" opacity="0.95" filter="url(#bl)"/>
<text x="547.30" y="38.32" font-size="4.5" font-weight="normal" text-anchor="end" fill="#222" stroke="#222" stroke-width="0.16">NAT10</text>
<text x="547.30" y="54.22" font-size="4.5" font-weight="normal" text-anchor="end" fill="#222" stroke="#222" stroke-width="0.16">ETS2</text>
<text x="547.30" y="73.62" font-size="4.5" font-weight="normal" text-anchor="end" fill="#222" stroke="#222" stroke-width="0.16">GAPDH</text>
<text x="547.30" y="92.22" font-size="4.5" font-weight="normal" text-anchor="end" fill="#222" stroke="#222" stroke-width="0.16">Beta tubulin</text>
<text x="547.30" y="116.22" font-size="4.5" font-weight="normal" text-anchor="end" fill="#222" stroke="#222" stroke-width="0.16">PD-L1</text>
<text x="661.40" y="31.03" font-size="4.8" font-weight="normal" text-anchor="start" fill="#333" stroke="#333" stroke-width="0.12">—116KD</text>
<text x="661.40" y="54.33" font-size="4.8" font-weight="normal" text-anchor="start" fill="#333" stroke="#333" stroke-width="0.12">—54KD</text>
<text x="661.40" y="71.93" font-size="4.8" font-weight="normal" text-anchor="start" fill="#333" stroke="#333" stroke-width="0.12">—37KD</text>
<text x="661.40" y="95.53" font-size="4.8" font-weight="normal" text-anchor="start" fill="#333" stroke="#333" stroke-width="0.12">—55KD</text>
<text x="661.40" y="112.93" font-size="4.8" font-weight="normal" text-anchor="start" fill="#333" stroke="#333" stroke-width="0.12">—33KD</text>
<text x="95.60" y="136.26" font-size="6.0" font-weight="normal" text-anchor="middle" fill="#111" stroke="#111" stroke-width="0.18">PANC-1</text>
<line x1="32.20" y1="139.50" x2="158.10" y2="139.50" stroke="#333" stroke-width="0.8"/>
<text x="55.50" y="147.62" font-size="5.9" font-weight="bold" text-anchor="middle" fill="#111" >sh-NC</text>
<text x="98.10" y="147.62" font-size="5.9" font-weight="bold" text-anchor="middle" fill="#111" >sh-NAT10</text>
<text x="152.60" y="147.62" font-size="5.9" font-weight="bold" text-anchor="middle" fill="#111" >sh-NAT10+oe-ETS2</text>
<rect x="29.20" y="150.20" width="139.40" height="21.20" fill="#f0f0f0" stroke="#666" stroke-width="0.9" />
<rect x="34.30" y="156.70" width="8.40" height="1.80" rx="0.64" fill="#999" opacity="0.55" filter="url(#bl)"/>
<rect x="48.80" y="156.70" width="8.40" height="1.80" rx="0.64" fill="#999" opacity="0.55" filter="url(#bl)"/>
<rect x="63.30" y="156.70" width="8.40" height="1.80" rx="0.64" fill="#999" opacity="0.55" filter="url(#bl)"/>
<rect x="78.50" y="155.20" width="8.40" height="1.80" rx="0.64" fill="#999" opacity="0.55" filter="url(#bl)"/>
<rect x="93.20" y="154.90" width="8.40" height="1.80" rx="0.64" fill="#999" opacity="0.55" filter="url(#bl)"/>
<rect x="107.70" y="155.50" width="8.40" height="1.80" rx="0.64" fill="#999" opacity="0.55" filter="url(#bl)"/>
<rect x="122.40" y="156.70" width="8.40" height="1.80" rx="0.64" fill="#999" opacity="0.55" filter="url(#bl)"/>
<rect x="137.10" y="156.70" width="8.40" height="1.80" rx="0.64" fill="#999" opacity="0.55" filter="url(#bl)"/>
<rect x="151.80" y="156.70" width="8.40" height="1.80" rx="0.64" fill="#999" opacity="0.55" filter="url(#bl)"/>
<rect x="33.55" y="161.50" width="9.90" height="3.00" rx="1.07" fill="#111" opacity="0.95" filter="url(#bl)"/>
<rect x="48.05" y="161.50" width="9.90" height="3.00" rx="1.07" fill="#111" opacity="0.95" filter="url(#bl)"/>
<rect x="62.55" y="161.50" width="9.90" height="3.00" rx="1.07" fill="#111" opacity="0.95" filter="url(#bl)"/>
<rect x="77.75" y="159.90" width="9.90" height="3.00" rx="1.07" fill="#111" opacity="0.95" filter="url(#bl)"/>
<rect x="92.45" y="159.70" width="9.90" height="3.00" rx="1.07" fill="#111" opacity="0.95" filter="url(#bl)"/>
<rect x="106.95" y="160.70" width="9.90" height="3.00" rx="1.07" fill="#111" opacity="0.95" filter="url(#bl)"/>
<rect x="121.65" y="161.20" width="9.90" height="3.00" rx="1.07" fill="#111" opacity="0.95" filter="url(#bl)"/>
<rect x="136.35" y="161.20" width="9.90" height="3.00" rx="1.07" fill="#111" opacity="0.95" filter="url(#bl)"/>
<rect x="151.05" y="161.70" width="9.90" height="3.00" rx="1.07" fill="#111" opacity="0.95" filter="url(#bl)"/>
<rect x="29.20" y="178.20" width="139.40" height="9.40" fill="#f0f0f0" stroke="#666" stroke-width="0.9" />
<rect x="33.30" y="181.30" width="10.40" height="3.80" rx="1.36" fill="#111" opacity="0.95" filter="url(#bl)"/>
<rect x="47.80" y="181.30" width="10.40" height="3.80" rx="1.36" fill="#111" opacity="0.95" filter="url(#bl)"/>
<rect x="62.30" y="181.30" width="10.40" height="3.80" rx="1.36" fill="#111" opacity="0.95" filter="url(#bl)"/>
<rect x="78.00" y="181.00" width="9.40" height="2.40" rx="0.86" fill="#111" opacity="0.95" filter="url(#bl)"/>
<rect x="92.70" y="181.20" width="9.40" height="2.40" rx="0.86" fill="#111" opacity="0.95" filter="url(#bl)"/>
<rect x="107.20" y="182.00" width="9.40" height="2.40" rx="0.86" fill="#111" opacity="0.95" filter="url(#bl)"/>
<rect x="121.90" y="181.80" width="9.40" height="2.80" rx="1.00" fill="#111" opacity="0.95" filter="url(#bl)"/>
<rect x="136.60" y="181.80" width="9.40" height="2.80" rx="1.00" fill="#111" opacity="0.95" filter="url(#bl)"/>
<rect x="151.30" y="182.10" width="9.40" height="2.80" rx="1.00" fill="#111" opacity="0.95" filter="url(#bl)"/>
<text x="26.00" y="165.85" font-size="4.3" font-weight="normal" text-anchor="end" fill="#222" stroke="#222" stroke-width="0.16">Beta tubulin</text>
<text x="26.00" y="184.58" font-size="4.4" font-weight="normal" text-anchor="end" fill="#222" stroke="#222" stroke-width="0.16">PD-L1</text>
<text x="172.30" y="164.53" font-size="4.8" font-weight="normal" text-anchor="start" fill="#333" stroke="#333" stroke-width="0.12">—55KD</text>
<text x="172.30" y="184.73" font-size="4.8" font-weight="normal" text-anchor="start" fill="#333" stroke="#333" stroke-width="0.12">—33KD</text>
<text x="94.90" y="207.16" font-size="6.0" font-weight="normal" text-anchor="middle" fill="#111" stroke="#111" stroke-width="0.18">AsPC-1</text>
<line x1="32.50" y1="210.50" x2="158.10" y2="210.50" stroke="#333" stroke-width="0.8"/>
<text x="55.00" y="218.09" font-size="5.8" font-weight="bold" text-anchor="middle" fill="#111" >sh-NC</text>
<text x="98.60" y="218.09" font-size="5.8" font-weight="bold" text-anchor="middle" fill="#111" >sh-NAT10</text>
<text x="148.20" y="218.09" font-size="5.8" font-weight="bold" text-anchor="middle" fill="#111" >sh-NAT10+oe-ETS2</text>
<rect x="29.20" y="220.20" width="139.40" height="12.40" fill="#f0f0f0" stroke="#666" stroke-width="0.9" />
<rect x="34.05" y="226.40" width="9.90" height="3.00" rx="1.07" fill="#111" opacity="0.95" filter="url(#bl)"/>
<rect x="48.05" y="226.40" width="9.90" height="3.00" rx="1.07" fill="#111" opacity="0.95" filter="url(#bl)"/>
<rect x="62.75" y="226.40" width="9.90" height="3.00" rx="1.07" fill="#111" opacity="0.95" filter="url(#bl)"/>
<rect x="77.25" y="226.40" width="9.90" height="3.00" rx="1.07" fill="#111" opacity="0.95" filter="url(#bl)"/>
<rect x="92.05" y="226.40" width="9.90" height="3.00" rx="1.07" fill="#111" opacity="0.95" filter="url(#bl)"/>
<rect x="106.45" y="226.40" width="9.90" height="3.00" rx="1.07" fill="#111" opacity="0.95" filter="url(#bl)"/>
<rect x="121.15" y="226.40" width="9.90" height="3.00" rx="1.07" fill="#111" opacity="0.95" filter="url(#bl)"/>
<rect x="136.15" y="225.60" width="9.90" height="3.00" rx="1.07" fill="#111" opacity="0.95" filter="url(#bl)"/>
<rect x="150.85" y="225.20" width="9.90" height="3.00" rx="1.07" fill="#111" opacity="0.95" filter="url(#bl)"/>
<rect x="29.20" y="240.00" width="139.40" height="12.80" fill="#f0f0f0" stroke="#666" stroke-width="0.9" />
<rect x="33.30" y="242.50" width="12.40" height="6.20" rx="2.21" fill="#111" opacity="0.95" filter="url(#bl)"/>
<rect x="47.30" y="242.50" width="12.40" height="6.20" rx="2.21" fill="#111" opacity="0.95" filter="url(#bl)"/>
<rect x="62.50" y="243.10" width="10.40" height="5.00" rx="1.79" fill="#222" opacity="0.95" filter="url(#bl)"/>
<rect x="78.00" y="245.50" width="8.40" height="1.80" rx="0.64" fill="#333" opacity="0.95" filter="url(#bl)"/>
<rect x="92.80" y="245.50" width="8.40" height="1.80" rx="0.64" fill="#444" opacity="0.95" filter="url(#bl)"/>
<rect x="107.20" y="244.60" width="8.40" height="2.00" rx="0.71" fill="#333" opacity="0.95" filter="url(#bl)"/>
<rect x="121.90" y="243.50" width="8.40" height="2.60" rx="0.93" fill="#222" opacity="0.95" filter="url(#bl)"/>
<rect x="136.90" y="243.60" width="8.40" height="2.40" rx="0.86" fill="#222" opacity="0.95" filter="url(#bl)"/>
<rect x="151.60" y="243.10" width="8.40" height="2.60" rx="0.93" fill="#222" opacity="0.95" filter="url(#bl)"/>
<text x="26.00" y="231.75" font-size="4.3" font-weight="normal" text-anchor="end" fill="#222" stroke="#222" stroke-width="0.16">Beta tubulin</text>
<text x="26.00" y="250.18" font-size="4.4" font-weight="normal" text-anchor="end" fill="#222" stroke="#222" stroke-width="0.16">PD-L1</text>
<text x="172.20" y="228.93" font-size="4.8" font-weight="normal" text-anchor="start" fill="#333" stroke="#333" stroke-width="0.12">—55KD</text>
<text x="172.20" y="248.73" font-size="4.8" font-weight="normal" text-anchor="start" fill="#333" stroke="#333" stroke-width="0.12">—33KD</text>
<line x1="237.50" y1="143.35" x2="237.50" y2="252.95" stroke="#222" stroke-width="1.15"/>
<line x1="236.45" y1="252.50" x2="345.60" y2="252.50" stroke="#222" stroke-width="1.15"/>
<line x1="233.20" y1="143.50" x2="237.00" y2="143.50" stroke="#222" stroke-width="1.15"/>
<text x="232.20" y="146.78" font-size="8.0" font-weight="bold" text-anchor="end" fill="#111" >15</text>
<line x1="233.20" y1="180.50" x2="237.00" y2="180.50" stroke="#222" stroke-width="1.15"/>
<text x="232.20" y="182.98" font-size="8.0" font-weight="bold" text-anchor="end" fill="#111" >10</text>
<line x1="233.20" y1="216.50" x2="237.00" y2="216.50" stroke="#222" stroke-width="1.15"/>
<text x="232.20" y="219.08" font-size="8.0" font-weight="bold" text-anchor="end" fill="#111" >5</text>
<line x1="233.20" y1="252.50" x2="237.00" y2="252.50" stroke="#222" stroke-width="1.15"/>
<text x="232.20" y="255.28" font-size="8.0" font-weight="bold" text-anchor="end" fill="#111" >0</text>
<line x1="261.50" y1="252.40" x2="261.50" y2="256.80" stroke="#222" stroke-width="1.15"/>
<text x="261.90" y="265.24" font-size="7.6" font-weight="bold" text-anchor="middle" fill="#111" >PANC-1</text>
<line x1="319.50" y1="252.40" x2="319.50" y2="256.80" stroke="#222" stroke-width="1.15"/>
<text x="319.90" y="265.24" font-size="7.6" font-weight="bold" text-anchor="middle" fill="#111" >AsPC-1</text>
<line x1="251.50" y1="244.00" x2="251.50" y2="243.20" stroke="#6b2619" stroke-width="0.9"/>
<line x1="247.80" y1="243.50" x2="255.00" y2="243.50" stroke="#6b2619" stroke-width="0.9"/>
<rect x="244.20" y="244.00" width="14.40" height="8.40" fill="#6b2619" stroke="none" stroke-width="0" />
<line x1="273.50" y1="163.10" x2="273.50" y2="162.30" stroke="#e38f37" stroke-width="0.9"/>
<line x1="269.60" y1="162.50" x2="276.60" y2="162.50" stroke="#e38f37" stroke-width="0.9"/>
<rect x="266.10" y="163.10" width="14.00" height="89.30" fill="#e38f37" stroke="none" stroke-width="0" />
<line x1="308.50" y1="244.00" x2="308.50" y2="243.40" stroke="#6b2619" stroke-width="0.9"/>
<line x1="305.25" y1="243.50" x2="312.55" y2="243.50" stroke="#6b2619" stroke-width="0.9"/>
<rect x="301.60" y="244.00" width="14.60" height="8.40" fill="#6b2619" stroke="none" stroke-width="0" />
<line x1="330.50" y1="177.50" x2="330.50" y2="176.80" stroke="#e38f37" stroke-width="0.9"/>
<line x1="327.00" y1="176.50" x2="334.00" y2="176.50" stroke="#e38f37" stroke-width="0.9"/>
<rect x="323.50" y="177.50" width="14.00" height="74.90" fill="#e38f37" stroke="none" stroke-width="0" />
<line x1="251.00" y1="159.50" x2="272.50" y2="159.50" stroke="#111" stroke-width="1"/>
<text x="261.70" y="159.51" font-size="7.8" font-weight="bold" text-anchor="middle" fill="#111" >***</text>
<line x1="311.90" y1="173.50" x2="332.40" y2="173.50" stroke="#111" stroke-width="1"/>
<text x="322.10" y="173.41" font-size="7.8" font-weight="bold" text-anchor="middle" fill="#111" >***</text>
<rect x="249.60" y="142.00" width="13.90" height="6.10" fill="#6b2619" stroke="none" stroke-width="0" />
<text x="268.00" y="148.15" font-size="8.2" font-weight="normal" text-anchor="start" fill="#111" >IgG</text>
<rect x="303.50" y="142.00" width="14.50" height="6.10" fill="#e38f37" stroke="none" stroke-width="0" />
<text x="323.20" y="148.15" font-size="8.2" font-weight="normal" text-anchor="start" fill="#111" >NAT10</text>
<text transform="translate(201.80,198.70) rotate(-90)" x="0" y="3.24" font-size="9.0" font-weight="bold" text-anchor="middle" fill="#111" >Relative expression of ETS2</text>
<text transform="translate(213.20,198.20) rotate(-90)" x="0" y="3.02" font-size="8.4" font-weight="bold" text-anchor="middle" fill="#111" >RIP/IgG</text>
<line x1="405.50" y1="141.85" x2="405.50" y2="250.85" stroke="#222" stroke-width="1.15"/>
<line x1="405.35" y1="250.50" x2="510.00" y2="250.50" stroke="#222" stroke-width="1.15"/>
<line x1="402.10" y1="142.50" x2="405.90" y2="142.50" stroke="#222" stroke-width="1.15"/>
<text x="401.10" y="145.24" font-size="7.9" font-weight="bold" text-anchor="end" fill="#111" >10</text>
<line x1="402.10" y1="164.50" x2="405.90" y2="164.50" stroke="#222" stroke-width="1.15"/>
<text x="401.10" y="166.84" font-size="7.9" font-weight="bold" text-anchor="end" fill="#111" >8</text>
<line x1="402.10" y1="185.50" x2="405.90" y2="185.50" stroke="#222" stroke-width="1.15"/>
<text x="401.10" y="188.44" font-size="7.9" font-weight="bold" text-anchor="end" fill="#111" >6</text>
<line x1="402.10" y1="207.50" x2="405.90" y2="207.50" stroke="#222" stroke-width="1.15"/>
<text x="401.10" y="210.04" font-size="7.9" font-weight="bold" text-anchor="end" fill="#111" >4</text>
<line x1="402.10" y1="228.50" x2="405.90" y2="228.50" stroke="#222" stroke-width="1.15"/>
<text x="401.10" y="231.54" font-size="7.9" font-weight="bold" text-anchor="end" fill="#111" >2</text>
<line x1="402.10" y1="250.50" x2="405.90" y2="250.50" stroke="#222" stroke-width="1.15"/>
<text x="401.10" y="253.14" font-size="7.9" font-weight="bold" text-anchor="end" fill="#111" >0</text>
<line x1="430.50" y1="250.30" x2="430.50" y2="254.70" stroke="#222" stroke-width="1.15"/>
<text x="430.30" y="262.66" font-size="7.4" font-weight="bold" text-anchor="middle" fill="#111" >sh-NC</text>
<line x1="488.50" y1="250.30" x2="488.50" y2="254.70" stroke="#222" stroke-width="1.15"/>
<text x="488.60" y="262.66" font-size="7.4" font-weight="bold" text-anchor="middle" fill="#111" >sh-NAT10</text>
<line x1="419.50" y1="238.70" x2="419.50" y2="238.00" stroke="#6b2619" stroke-width="0.9"/>
<line x1="416.20" y1="238.50" x2="423.40" y2="238.50" stroke="#6b2619" stroke-width="0.9"/>
<rect x="412.60" y="238.70" width="14.40" height="11.60" fill="#6b2619" stroke="none" stroke-width="0" />
<line x1="441.50" y1="159.70" x2="441.50" y2="158.60" stroke="#e38f37" stroke-width="0.9"/>
<line x1="437.62" y1="158.50" x2="445.08" y2="158.50" stroke="#e38f37" stroke-width="0.9"/>
<rect x="433.90" y="159.70" width="14.90" height="90.60" fill="#e38f37" stroke="none" stroke-width="0" />
<line x1="477.50" y1="238.70" x2="477.50" y2="238.00" stroke="#6b2619" stroke-width="0.9"/>
<line x1="474.00" y1="238.50" x2="481.20" y2="238.50" stroke="#6b2619" stroke-width="0.9"/>
<rect x="470.40" y="238.70" width="14.40" height="11.60" fill="#6b2619" stroke="none" stroke-width="0" />
<line x1="498.50" y1="203.90" x2="498.50" y2="202.60" stroke="#e38f37" stroke-width="0.9"/>
<line x1="495.23" y1="202.50" x2="502.67" y2="202.50" stroke="#e38f37" stroke-width="0.9"/>
<rect x="491.50" y="203.90" width="14.90" height="46.40" fill="#e38f37" stroke="none" stroke-width="0" />
<line x1="420.00" y1="155.50" x2="441.90" y2="155.50" stroke="#111" stroke-width="1"/>
<line x1="446.30" y1="155.50" x2="496.50" y2="155.50" stroke="#111" stroke-width="1"/>
<line x1="474.60" y1="196.50" x2="498.20" y2="196.50" stroke="#111" stroke-width="1"/>
<text x="430.90" y="155.61" font-size="7.8" font-weight="bold" text-anchor="middle" fill="#111" >***</text>
<text x="471.40" y="155.61" font-size="7.8" font-weight="bold" text-anchor="middle" fill="#111" >***</text>
<text x="486.40" y="196.51" font-size="7.8" font-weight="bold" text-anchor="middle" fill="#111" >***</text>
<rect x="418.30" y="140.60" width="11.20" height="5.50" fill="#6b2619" stroke="none" stroke-width="0" />
<text x="436.20" y="146.50" font-size="8.6" font-weight="normal" text-anchor="start" fill="#111" >IgG</text>
<rect x="472.90" y="140.60" width="12.40" height="5.50" fill="#e38f37" stroke="none" stroke-width="0" />
<text x="491.50" y="146.50" font-size="8.6" font-weight="normal" text-anchor="start" fill="#111" >ac4C</text>
<text transform="translate(381.30,195.70) rotate(-90)" x="0" y="3.13" font-size="8.7" font-weight="bold" text-anchor="middle" fill="#111" >Relative ETS2 level</text>
<line x1="570.50" y1="141.85" x2="570.50" y2="250.35" stroke="#222" stroke-width="1.15"/>
<line x1="569.55" y1="249.50" x2="673.80" y2="249.50" stroke="#222" stroke-width="1.15"/>
<line x1="566.30" y1="142.50" x2="570.10" y2="142.50" stroke="#222" stroke-width="1.15"/>
<text x="565.30" y="145.24" font-size="7.9" font-weight="bold" text-anchor="end" fill="#111" >8</text>
<line x1="566.30" y1="169.50" x2="570.10" y2="169.50" stroke="#222" stroke-width="1.15"/>
<text x="565.30" y="172.14" font-size="7.9" font-weight="bold" text-anchor="end" fill="#111" >6</text>
<line x1="566.30" y1="196.50" x2="570.10" y2="196.50" stroke="#222" stroke-width="1.15"/>
<text x="565.30" y="198.94" font-size="7.9" font-weight="bold" text-anchor="end" fill="#111" >4</text>
<line x1="566.30" y1="223.50" x2="570.10" y2="223.50" stroke="#222" stroke-width="1.15"/>
<text x="565.30" y="225.84" font-size="7.9" font-weight="bold" text-anchor="end" fill="#111" >2</text>
<line x1="566.30" y1="249.50" x2="570.10" y2="249.50" stroke="#222" stroke-width="1.15"/>
<text x="565.30" y="252.64" font-size="7.9" font-weight="bold" text-anchor="end" fill="#111" >0</text>
<line x1="595.50" y1="249.80" x2="595.50" y2="254.20" stroke="#222" stroke-width="1.15"/>
<text x="595.60" y="262.66" font-size="7.4" font-weight="bold" text-anchor="middle" fill="#111" >sh-NC</text>
<line x1="653.50" y1="249.80" x2="653.50" y2="254.20" stroke="#222" stroke-width="1.15"/>
<text x="653.00" y="262.66" font-size="7.4" font-weight="bold" text-anchor="middle" fill="#111" >sh-NAT10</text>
<line x1="584.50" y1="233.70" x2="584.50" y2="233.00" stroke="#6b2619" stroke-width="0.9"/>
<line x1="581.35" y1="233.50" x2="588.45" y2="233.50" stroke="#6b2619" stroke-width="0.9"/>
<rect x="577.80" y="233.70" width="14.20" height="16.10" fill="#6b2619" stroke="none" stroke-width="0" />
<line x1="606.50" y1="162.70" x2="606.50" y2="160.80" stroke="#e38f37" stroke-width="0.9"/>
<line x1="603.00" y1="160.50" x2="610.20" y2="160.50" stroke="#e38f37" stroke-width="0.9"/>
<rect x="599.40" y="162.70" width="14.40" height="87.10" fill="#e38f37" stroke="none" stroke-width="0" />
<line x1="642.50" y1="234.70" x2="642.50" y2="234.00" stroke="#6b2619" stroke-width="0.9"/>
<line x1="638.80" y1="234.50" x2="645.60" y2="234.50" stroke="#6b2619" stroke-width="0.9"/>
<rect x="635.40" y="234.70" width="13.60" height="15.10" fill="#6b2619" stroke="none" stroke-width="0" />
<line x1="663.50" y1="204.40" x2="663.50" y2="202.00" stroke="#e38f37" stroke-width="0.9"/>
<line x1="660.48" y1="202.50" x2="667.43" y2="202.50" stroke="#e38f37" stroke-width="0.9"/>
<rect x="657.00" y="204.40" width="13.90" height="45.40" fill="#e38f37" stroke="none" stroke-width="0" />
<line x1="584.00" y1="156.50" x2="604.40" y2="156.50" stroke="#111" stroke-width="1"/>
<line x1="609.30" y1="156.50" x2="662.70" y2="156.50" stroke="#111" stroke-width="1"/>
<line x1="641.60" y1="193.50" x2="663.40" y2="193.50" stroke="#111" stroke-width="1"/>
<text x="594.20" y="156.31" font-size="7.8" font-weight="bold" text-anchor="middle" fill="#111" >***</text>
<text x="636.00" y="156.31" font-size="7.8" font-weight="bold" text-anchor="middle" fill="#111" >***</text>
<text x="652.50" y="193.61" font-size="7.8" font-weight="bold" text-anchor="middle" fill="#111" >***</text>
<rect x="584.00" y="140.60" width="10.90" height="5.50" fill="#6b2619" stroke="none" stroke-width="0" />
<text x="601.10" y="146.50" font-size="8.6" font-weight="normal" text-anchor="start" fill="#111" >IgG</text>
<rect x="638.60" y="140.60" width="11.70" height="5.50" fill="#e38f37" stroke="none" stroke-width="0" />
<text x="655.70" y="146.50" font-size="8.6" font-weight="normal" text-anchor="start" fill="#111" >ac4C</text>
<text transform="translate(551.20,195.70) rotate(-90)" x="0" y="3.13" font-size="8.7" font-weight="bold" text-anchor="middle" fill="#111" >Relative ETS2 level</text>
<line x1="32.50" y1="295.85" x2="32.50" y2="392.65" stroke="#222" stroke-width="1.15"/>
<line x1="31.55" y1="392.50" x2="176.60" y2="392.50" stroke="#222" stroke-width="1.15"/>
<line x1="28.30" y1="296.50" x2="32.10" y2="296.50" stroke="#222" stroke-width="1.15"/>
<text x="27.30" y="299.28" font-size="8.0" font-weight="bold" text-anchor="end" fill="#111" >1.5</text>
<line x1="28.30" y1="328.50" x2="32.10" y2="328.50" stroke="#222" stroke-width="1.15"/>
<text x="27.30" y="331.18" font-size="8.0" font-weight="bold" text-anchor="end" fill="#111" >1.0</text>
<line x1="28.30" y1="360.50" x2="32.10" y2="360.50" stroke="#222" stroke-width="1.15"/>
<text x="27.30" y="363.08" font-size="8.0" font-weight="bold" text-anchor="end" fill="#111" >0.5</text>
<line x1="28.30" y1="392.50" x2="32.10" y2="392.50" stroke="#222" stroke-width="1.15"/>
<text x="27.30" y="394.98" font-size="8.0" font-weight="bold" text-anchor="end" fill="#111" >0.0</text>
<line x1="51.50" y1="392.10" x2="51.50" y2="396.50" stroke="#222" stroke-width="1.15"/>
<text x="51.00" y="404.26" font-size="7.4" font-weight="bold" text-anchor="middle" fill="#111" >0</text>
<line x1="78.50" y1="392.10" x2="78.50" y2="396.50" stroke="#222" stroke-width="1.15"/>
<text x="78.00" y="404.26" font-size="7.4" font-weight="bold" text-anchor="middle" fill="#111" >2</text>
<line x1="105.50" y1="392.10" x2="105.50" y2="396.50" stroke="#222" stroke-width="1.15"/>
<text x="105.00" y="404.26" font-size="7.4" font-weight="bold" text-anchor="middle" fill="#111" >4</text>
<line x1="132.50" y1="392.10" x2="132.50" y2="396.50" stroke="#222" stroke-width="1.15"/>
<text x="132.00" y="404.26" font-size="7.4" font-weight="bold" text-anchor="middle" fill="#111" >6</text>
<line x1="158.50" y1="392.10" x2="158.50" y2="396.50" stroke="#222" stroke-width="1.15"/>
<text x="158.80" y="404.26" font-size="7.4" font-weight="bold" text-anchor="middle" fill="#111" >8</text>
<polyline points="51.50,322.50 78.50,341.50 105.50,354.50 132.50,356.50 158.50,360.50" fill="none" stroke="#f2c650" stroke-width="1.1"/>
<polygon points="51.00,320.10 53.40,324.10 48.60,324.10" fill="#f2c650"/>
<polygon points="78.00,339.10 80.40,343.10 75.60,343.10" fill="#f2c650"/>
<polygon points="105.00,352.40 107.40,356.40 102.60,356.40" fill="#f2c650"/>
<polygon points="132.00,353.70 134.40,357.70 129.60,357.70" fill="#f2c650"/>
<polygon points="158.80,358.50 161.20,362.50 156.40,362.50" fill="#f2c650"/>
<polyline points="51.50,327.50 78.50,344.50 105.50,355.50 132.50,359.50 158.50,363.50" fill="none" stroke="#c0462b" stroke-width="1.1"/>
<rect x="48.90" y="325.70" width="4.20" height="4.20" fill="#c0462b" stroke="none" stroke-width="0" />
<rect x="75.90" y="342.60" width="4.20" height="4.20" fill="#c0462b" stroke="none" stroke-width="0" />
<rect x="102.90" y="353.30" width="4.20" height="4.20" fill="#c0462b" stroke="none" stroke-width="0" />
<rect x="129.90" y="357.80" width="4.20" height="4.20" fill="#c0462b" stroke="none" stroke-width="0" />
<rect x="156.70" y="361.60" width="4.20" height="4.20" fill="#c0462b" stroke="none" stroke-width="0" />
<polyline points="51.50,323.50 78.50,331.50 105.50,334.50 132.50,338.50 158.50,343.50" fill="none" stroke="#7a2a1d" stroke-width="1.1"/>
<circle cx="51.00" cy="323.50" r="2.1" fill="#7a2a1d"/>
<circle cx="78.00" cy="331.60" r="2.1" fill="#7a2a1d"/>
<circle cx="105.00" cy="334.50" r="2.1" fill="#7a2a1d"/>
<circle cx="132.00" cy="338.30" r="2.1" fill="#7a2a1d"/>
<circle cx="158.80" cy="343.80" r="2.1" fill="#7a2a1d"/>
<text x="78.90" y="341.42" font-size="7.0" font-weight="bold" text-anchor="middle" fill="#111" >***</text>
<text x="105.50" y="353.72" font-size="7.0" font-weight="bold" text-anchor="middle" fill="#111" >***</text>
<text x="133.00" y="355.32" font-size="7.0" font-weight="bold" text-anchor="middle" fill="#111" >***</text>
<text x="159.20" y="360.42" font-size="7.0" font-weight="bold" text-anchor="middle" fill="#111" >***</text>
<text x="78.90" y="354.72" font-size="7.0" font-weight="bold" text-anchor="middle" fill="#111" >***</text>
<text x="105.50" y="366.12" font-size="7.0" font-weight="bold" text-anchor="middle" fill="#111" >***</text>
<text x="133.00" y="368.52" font-size="7.0" font-weight="bold" text-anchor="middle" fill="#111" >***</text>
<text x="159.20" y="372.72" font-size="7.0" font-weight="bold" text-anchor="middle" fill="#111" >***</text>
<text x="103.80" y="283.44" font-size="7.6" font-weight="bold" text-anchor="middle" fill="#111" >PANC-1</text>
<text x="104.60" y="416.28" font-size="8.0" font-weight="bold" text-anchor="middle" fill="#111" >Hours(h)</text>
<text transform="translate(7.80,343.00) rotate(-90) scale(0.95,1)" x="0" y="3.07" font-size="8.53" font-weight="bold" text-anchor="middle" fill="#111" >Relative ETS2 level</text>
<line x1="122.00" y1="302.50" x2="130.70" y2="302.50" stroke="#7a2a1d" stroke-width="1.1"/>
<circle cx="126.35" cy="302.60" r="2.1" fill="#7a2a1d"/>
<text x="134.90" y="304.69" font-size="5.8" font-weight="bold" text-anchor="start" fill="#111" >sh-NC</text>
<line x1="122.00" y1="312.50" x2="130.70" y2="312.50" stroke="#c0462b" stroke-width="1.1"/>
<rect x="124.25" y="310.40" width="4.20" height="4.20" fill="#c0462b" stroke="none" stroke-width="0" />
<text x="134.90" y="314.59" font-size="5.8" font-weight="bold" text-anchor="start" fill="#111" >sh-NAT10#1</text>
<line x1="122.00" y1="322.50" x2="130.70" y2="322.50" stroke="#f2c650" stroke-width="1.1"/>
<polygon points="126.35,319.60 128.75,323.60 123.95,323.60" fill="#f2c650"/>
<text x="134.90" y="324.09" font-size="5.8" font-weight="bold" text-anchor="start" fill="#111" >sh-NAT10#2</text>
<line x1="220.50" y1="295.85" x2="220.50" y2="392.65" stroke="#222" stroke-width="1.15"/>
<line x1="219.65" y1="392.50" x2="366.00" y2="392.50" stroke="#222" stroke-width="1.15"/>
<line x1="216.40" y1="296.50" x2="220.20" y2="296.50" stroke="#222" stroke-width="1.15"/>
<text x="215.40" y="299.28" font-size="8.0" font-weight="bold" text-anchor="end" fill="#111" >1.5</text>
<line x1="216.40" y1="328.50" x2="220.20" y2="328.50" stroke="#222" stroke-width="1.15"/>
<text x="215.40" y="331.18" font-size="8.0" font-weight="bold" text-anchor="end" fill="#111" >1.0</text>
<line x1="216.40" y1="360.50" x2="220.20" y2="360.50" stroke="#222" stroke-width="1.15"/>
<text x="215.40" y="363.08" font-size="8.0" font-weight="bold" text-anchor="end" fill="#111" >0.5</text>
<line x1="216.40" y1="392.50" x2="220.20" y2="392.50" stroke="#222" stroke-width="1.15"/>
<text x="215.40" y="394.98" font-size="8.0" font-weight="bold" text-anchor="end" fill="#111" >0.0</text>
<line x1="239.50" y1="392.10" x2="239.50" y2="396.50" stroke="#222" stroke-width="1.15"/>
<text x="239.10" y="404.26" font-size="7.4" font-weight="bold" text-anchor="middle" fill="#111" >0</text>
<line x1="266.50" y1="392.10" x2="266.50" y2="396.50" stroke="#222" stroke-width="1.15"/>
<text x="266.20" y="404.26" font-size="7.4" font-weight="bold" text-anchor="middle" fill="#111" >2</text>
<line x1="293.50" y1="392.10" x2="293.50" y2="396.50" stroke="#222" stroke-width="1.15"/>
<text x="293.00" y="404.26" font-size="7.4" font-weight="bold" text-anchor="middle" fill="#111" >4</text>
<line x1="320.50" y1="392.10" x2="320.50" y2="396.50" stroke="#222" stroke-width="1.15"/>
<text x="320.20" y="404.26" font-size="7.4" font-weight="bold" text-anchor="middle" fill="#111" >6</text>
<line x1="347.50" y1="392.10" x2="347.50" y2="396.50" stroke="#222" stroke-width="1.15"/>
<text x="347.40" y="404.26" font-size="7.4" font-weight="bold" text-anchor="middle" fill="#111" >8</text>
<polyline points="239.50,324.50 266.50,359.50 293.50,362.50 320.50,365.50 347.50,368.50" fill="none" stroke="#f2c650" stroke-width="1.1"/>
<polygon points="239.10,322.20 241.50,326.20 236.70,326.20" fill="#f2c650"/>
<polygon points="266.20,357.20 268.60,361.20 263.80,361.20" fill="#f2c650"/>
<polygon points="293.00,359.80 295.40,363.80 290.60,363.80" fill="#f2c650"/>
<polygon points="320.20,363.00 322.60,367.00 317.80,367.00" fill="#f2c650"/>
<polygon points="347.40,366.40 349.80,370.40 345.00,370.40" fill="#f2c650"/>
<polyline points="239.50,324.50 266.50,358.50 293.50,358.50 320.50,362.50 347.50,367.50" fill="none" stroke="#c0462b" stroke-width="1.1"/>
<rect x="237.00" y="322.00" width="4.20" height="4.20" fill="#c0462b" stroke="none" stroke-width="0" />
<rect x="264.10" y="356.20" width="4.20" height="4.20" fill="#c0462b" stroke="none" stroke-width="0" />
<rect x="290.90" y="356.20" width="4.20" height="4.20" fill="#c0462b" stroke="none" stroke-width="0" />
<rect x="318.10" y="360.10" width="4.20" height="4.20" fill="#c0462b" stroke="none" stroke-width="0" />
<rect x="345.30" y="365.40" width="4.20" height="4.20" fill="#c0462b" stroke="none" stroke-width="0" />
<polyline points="239.50,325.50 266.50,329.50 293.50,338.50 320.50,344.50 347.50,347.50" fill="none" stroke="#7a2a1d" stroke-width="1.1"/>
<circle cx="239.10" cy="325.90" r="2.1" fill="#7a2a1d"/>
<circle cx="266.20" cy="329.90" r="2.1" fill="#7a2a1d"/>
<circle cx="293.00" cy="338.60" r="2.1" fill="#7a2a1d"/>
<circle cx="320.20" cy="344.30" r="2.1" fill="#7a2a1d"/>
<circle cx="347.40" cy="347.70" r="2.1" fill="#7a2a1d"/>
<text x="266.20" y="356.72" font-size="7.0" font-weight="bold" text-anchor="middle" fill="#111" >***</text>
<text x="293.00" y="358.02" font-size="7.0" font-weight="bold" text-anchor="middle" fill="#111" >***</text>
<text x="320.60" y="360.42" font-size="7.0" font-weight="bold" text-anchor="middle" fill="#111" >***</text>
<text x="347.40" y="366.42" font-size="7.0" font-weight="bold" text-anchor="middle" fill="#111" >***</text>
<text x="266.20" y="370.42" font-size="7.0" font-weight="bold" text-anchor="middle" fill="#111" >***</text>
<text x="293.00" y="372.22" font-size="7.0" font-weight="bold" text-anchor="middle" fill="#111" >***</text>
<text x="320.60" y="375.62" font-size="7.0" font-weight="bold" text-anchor="middle" fill="#111" >***</text>
<text x="347.40" y="379.02" font-size="7.0" font-weight="bold" text-anchor="middle" fill="#111" >***</text>
<text x="293.00" y="283.24" font-size="7.6" font-weight="bold" text-anchor="middle" fill="#111" >AsPC-1</text>
<text x="293.00" y="417.38" font-size="8.0" font-weight="bold" text-anchor="middle" fill="#111" >Hours(h)</text>
<text transform="translate(195.30,343.00) rotate(-90) scale(0.95,1)" x="0" y="3.07" font-size="8.53" font-weight="bold" text-anchor="middle" fill="#111" >Relative ETS2 level</text>
<line x1="308.00" y1="302.50" x2="317.20" y2="302.50" stroke="#7a2a1d" stroke-width="1.1"/>
<circle cx="312.60" cy="302.80" r="2.1" fill="#7a2a1d"/>
<text x="321.90" y="304.89" font-size="5.8" font-weight="bold" text-anchor="start" fill="#111" >sh-NC</text>
<line x1="308.00" y1="312.50" x2="317.20" y2="312.50" stroke="#c0462b" stroke-width="1.1"/>
<rect x="310.50" y="309.90" width="4.20" height="4.20" fill="#c0462b" stroke="none" stroke-width="0" />
<text x="321.90" y="314.09" font-size="5.8" font-weight="bold" text-anchor="start" fill="#111" >sh-NAT10#1</text>
<line x1="308.00" y1="322.50" x2="317.20" y2="322.50" stroke="#f2c650" stroke-width="1.1"/>
<polygon points="312.60,319.60 315.00,323.60 310.20,323.60" fill="#f2c650"/>
<text x="321.90" y="324.09" font-size="5.8" font-weight="bold" text-anchor="start" fill="#111" >sh-NAT10#2</text>
<line x1="415.50" y1="296.95" x2="415.50" y2="399.85" stroke="#222" stroke-width="1.15"/>
<line x1="414.75" y1="399.50" x2="518.10" y2="399.50" stroke="#222" stroke-width="1.15"/>
<line x1="411.50" y1="297.50" x2="415.30" y2="297.50" stroke="#222" stroke-width="1.15"/>
<text x="410.50" y="300.20" font-size="7.5" font-weight="bold" text-anchor="end" fill="#111" >1.5</text>
<line x1="411.50" y1="331.50" x2="415.30" y2="331.50" stroke="#222" stroke-width="1.15"/>
<text x="410.50" y="334.10" font-size="7.5" font-weight="bold" text-anchor="end" fill="#111" >1.0</text>
<line x1="411.50" y1="365.50" x2="415.30" y2="365.50" stroke="#222" stroke-width="1.15"/>
<text x="410.50" y="368.10" font-size="7.5" font-weight="bold" text-anchor="end" fill="#111" >0.5</text>
<line x1="411.50" y1="399.50" x2="415.30" y2="399.50" stroke="#222" stroke-width="1.15"/>
<text x="410.50" y="402.00" font-size="7.5" font-weight="bold" text-anchor="end" fill="#111" >0.0</text>
<line x1="439.50" y1="399.30" x2="439.50" y2="403.70" stroke="#222" stroke-width="1.15"/>
<text x="439.60" y="411.06" font-size="7.4" font-weight="bold" text-anchor="middle" fill="#111" >sh-NC</text>
<line x1="494.50" y1="399.30" x2="494.50" y2="403.70" stroke="#222" stroke-width="1.15"/>
<text x="494.40" y="411.06" font-size="7.4" font-weight="bold" text-anchor="middle" fill="#111" >sh-NAT10</text>
<line x1="429.50" y1="329.00" x2="429.50" y2="326.50" stroke="#6b2619" stroke-width="0.9"/>
<line x1="425.98" y1="326.50" x2="432.92" y2="326.50" stroke="#6b2619" stroke-width="0.9"/>
<rect x="422.50" y="329.00" width="13.90" height="70.30" fill="#6b2619" stroke="none" stroke-width="0" />
<line x1="449.50" y1="328.30" x2="449.50" y2="326.80" stroke="#e38f37" stroke-width="0.9"/>
<line x1="446.53" y1="326.50" x2="453.38" y2="326.50" stroke="#e38f37" stroke-width="0.9"/>
<rect x="443.10" y="328.30" width="13.70" height="71.00" fill="#e38f37" stroke="none" stroke-width="0" />
<line x1="484.50" y1="364.30" x2="484.50" y2="359.30" stroke="#6b2619" stroke-width="0.9"/>
<line x1="480.58" y1="359.50" x2="487.52" y2="359.50" stroke="#6b2619" stroke-width="0.9"/>
<rect x="477.10" y="364.30" width="13.90" height="35.00" fill="#6b2619" stroke="none" stroke-width="0" />
<line x1="504.50" y1="332.70" x2="504.50" y2="329.50" stroke="#e38f37" stroke-width="0.9"/>
<line x1="501.12" y1="329.50" x2="507.97" y2="329.50" stroke="#e38f37" stroke-width="0.9"/>
<rect x="497.70" y="332.70" width="13.70" height="66.60" fill="#e38f37" stroke="none" stroke-width="0" />
<polyline points="428.50,325.50 428.50,317.50 482.50,317.50 482.50,357.50" fill="none" stroke="#111" stroke-width="1"/>
<polyline points="486.50,357.50 486.50,317.50 504.50,317.50 504.50,325.50" fill="none" stroke="#111" stroke-width="1"/>
<text x="455.50" y="317.89" font-size="7.2" font-weight="bold" text-anchor="middle" fill="#111" >***</text>
<text x="494.50" y="317.89" font-size="7.2" font-weight="bold" text-anchor="middle" fill="#111" >***</text>
<rect x="425.00" y="294.50" width="10.70" height="4.20" fill="#6b2619" stroke="none" stroke-width="0" />
<text x="441.90" y="299.08" font-size="6.9" font-weight="bold" text-anchor="start" fill="#111" >ETS2 mRNA-WT</text>
<rect x="425.00" y="306.50" width="10.70" height="4.20" fill="#e38f37" stroke="none" stroke-width="0" />
<text x="441.90" y="311.08" font-size="6.9" font-weight="bold" text-anchor="start" fill="#111" >ETS2 mRNA-Mutation</text>
<text x="466.20" y="283.66" font-size="8.5" font-weight="bold" text-anchor="middle" fill="#111" >PANC-1</text>
<text transform="translate(380.70,348.00) rotate(-90) scale(0.95,1)" x="0" y="3.24" font-size="9.0" font-weight="bold" text-anchor="middle" fill="#111" >Relative luciferase activity</text>
<text transform="translate(391.40,348.00) rotate(-90) scale(0.95,1)" x="0" y="3.24" font-size="9.0" font-weight="bold" text-anchor="middle" fill="#111" >(normalized to shNC)</text>
<line x1="575.50" y1="293.75" x2="575.50" y2="399.05" stroke="#222" stroke-width="1.15"/>
<line x1="574.55" y1="398.50" x2="679.30" y2="398.50" stroke="#222" stroke-width="1.15"/>
<line x1="571.30" y1="294.50" x2="575.10" y2="294.50" stroke="#222" stroke-width="1.15"/>
<text x="570.30" y="297.00" font-size="7.5" font-weight="bold" text-anchor="end" fill="#111" >1.5</text>
<line x1="571.30" y1="329.50" x2="575.10" y2="329.50" stroke="#222" stroke-width="1.15"/>
<text x="570.30" y="331.70" font-size="7.5" font-weight="bold" text-anchor="end" fill="#111" >1.0</text>
<line x1="571.30" y1="363.50" x2="575.10" y2="363.50" stroke="#222" stroke-width="1.15"/>
<text x="570.30" y="366.50" font-size="7.5" font-weight="bold" text-anchor="end" fill="#111" >0.5</text>
<line x1="571.30" y1="398.50" x2="575.10" y2="398.50" stroke="#222" stroke-width="1.15"/>
<text x="570.30" y="401.20" font-size="7.5" font-weight="bold" text-anchor="end" fill="#111" >0.0</text>
<line x1="599.50" y1="398.50" x2="599.50" y2="402.90" stroke="#222" stroke-width="1.15"/>
<text x="599.40" y="411.06" font-size="7.4" font-weight="bold" text-anchor="middle" fill="#111" >sh-NC</text>
<line x1="654.50" y1="398.50" x2="654.50" y2="402.90" stroke="#222" stroke-width="1.15"/>
<text x="654.70" y="411.06" font-size="7.4" font-weight="bold" text-anchor="middle" fill="#111" >sh-NAT10</text>
<line x1="588.50" y1="328.50" x2="588.50" y2="324.00" stroke="#6b2619" stroke-width="0.9"/>
<line x1="585.42" y1="324.50" x2="592.28" y2="324.50" stroke="#6b2619" stroke-width="0.9"/>
<rect x="582.00" y="328.50" width="13.70" height="70.00" fill="#6b2619" stroke="none" stroke-width="0" />
<line x1="609.50" y1="332.00" x2="609.50" y2="328.50" stroke="#e38f37" stroke-width="0.9"/>
<line x1="606.53" y1="328.50" x2="613.38" y2="328.50" stroke="#e38f37" stroke-width="0.9"/>
<rect x="603.10" y="332.00" width="13.70" height="66.50" fill="#e38f37" stroke="none" stroke-width="0" />
<line x1="644.50" y1="356.30" x2="644.50" y2="355.20" stroke="#6b2619" stroke-width="0.9"/>
<line x1="641.30" y1="355.50" x2="648.10" y2="355.50" stroke="#6b2619" stroke-width="0.9"/>
<rect x="637.90" y="356.30" width="13.60" height="42.20" fill="#6b2619" stroke="none" stroke-width="0" />
<line x1="665.50" y1="330.30" x2="665.50" y2="328.50" stroke="#e38f37" stroke-width="0.9"/>
<line x1="661.85" y1="328.50" x2="668.55" y2="328.50" stroke="#e38f37" stroke-width="0.9"/>
<rect x="658.50" y="330.30" width="13.40" height="68.20" fill="#e38f37" stroke="none" stroke-width="0" />
<polyline points="588.50,324.50 588.50,317.50 644.50,317.50 644.50,351.50" fill="none" stroke="#111" stroke-width="1"/>
<polyline points="648.50,351.50 648.50,317.50 665.50,317.50 665.50,324.50" fill="none" stroke="#111" stroke-width="1"/>
<text x="616.30" y="317.89" font-size="7.2" font-weight="bold" text-anchor="middle" fill="#111" >***</text>
<text x="657.00" y="317.89" font-size="7.2" font-weight="bold" text-anchor="middle" fill="#111" >***</text>
<rect x="584.00" y="290.95" width="10.90" height="3.90" fill="#6b2619" stroke="none" stroke-width="0" />
<text x="601.40" y="295.38" font-size="6.9" font-weight="bold" text-anchor="start" fill="#111" >ETS2 mRNA-WT</text>
<rect x="584.00" y="303.55" width="10.90" height="3.90" fill="#e38f37" stroke="none" stroke-width="0" />
<text x="601.40" y="307.98" font-size="6.9" font-weight="bold" text-anchor="start" fill="#111" >ETS2 mRNA-Mutation</text>
<text x="625.40" y="281.66" font-size="8.5" font-weight="bold" text-anchor="middle" fill="#111" >AsPC-1</text>
<text transform="translate(539.90,346.30) rotate(-90) scale(0.95,1)" x="0" y="3.26" font-size="9.05" font-weight="bold" text-anchor="middle" fill="#111" >Relative luciferase activity</text>
<text transform="translate(550.20,346.30) rotate(-90) scale(0.95,1)" x="0" y="3.26" font-size="9.05" font-weight="bold" text-anchor="middle" fill="#111" >(normalized to shNC)</text>
<line x1="238.50" y1="461.45" x2="238.50" y2="550.85" stroke="#222" stroke-width="1.15"/>
<line x1="237.55" y1="550.50" x2="297.60" y2="550.50" stroke="#222" stroke-width="1.15"/>
<line x1="234.70" y1="462.50" x2="238.10" y2="462.50" stroke="#222" stroke-width="1.15"/>
<text x="233.70" y="464.38" font-size="6.6" font-weight="bold" text-anchor="end" fill="#111" >0.025</text>
<line x1="234.70" y1="479.50" x2="238.10" y2="479.50" stroke="#222" stroke-width="1.15"/>
<text x="233.70" y="482.08" font-size="6.6" font-weight="bold" text-anchor="end" fill="#111" >0.020</text>
<line x1="234.70" y1="497.50" x2="238.10" y2="497.50" stroke="#222" stroke-width="1.15"/>
<text x="233.70" y="499.78" font-size="6.6" font-weight="bold" text-anchor="end" fill="#111" >0.015</text>
<line x1="234.70" y1="515.50" x2="238.10" y2="515.50" stroke="#222" stroke-width="1.15"/>
<text x="233.70" y="517.38" font-size="6.6" font-weight="bold" text-anchor="end" fill="#111" >0.010</text>
<line x1="234.70" y1="532.50" x2="238.10" y2="532.50" stroke="#222" stroke-width="1.15"/>
<text x="233.70" y="535.08" font-size="6.6" font-weight="bold" text-anchor="end" fill="#111" >0.005</text>
<line x1="234.70" y1="550.50" x2="238.10" y2="550.50" stroke="#222" stroke-width="1.15"/>
<text x="233.70" y="552.68" font-size="6.6" font-weight="bold" text-anchor="end" fill="#111" >0.000</text>
<line x1="255.50" y1="550.30" x2="255.50" y2="554.30" stroke="#222" stroke-width="1.15"/>
<text x="255.80" y="561.68" font-size="6.9" font-weight="bold" text-anchor="middle" fill="#111" >IgG</text>
<line x1="281.50" y1="550.30" x2="281.50" y2="554.30" stroke="#222" stroke-width="1.15"/>
<text x="281.40" y="561.68" font-size="6.9" font-weight="bold" text-anchor="middle" fill="#111" >ETS2</text>
<line x1="255.50" y1="541.90" x2="255.50" y2="540.80" stroke="#6b2619" stroke-width="0.9"/>
<line x1="251.60" y1="540.50" x2="260.00" y2="540.50" stroke="#6b2619" stroke-width="0.9"/>
<rect x="247.40" y="541.90" width="16.80" height="8.40" fill="#6b2619" stroke="none" stroke-width="0" />
<line x1="281.50" y1="477.90" x2="281.50" y2="471.90" stroke="#e3c463" stroke-width="0.9"/>
<line x1="277.15" y1="471.50" x2="285.65" y2="471.50" stroke="#e3c463" stroke-width="0.9"/>
<rect x="272.90" y="477.90" width="17.00" height="72.40" fill="#e3c463" stroke="none" stroke-width="0" />
<polyline points="255.50,538.50 255.50,465.50 281.50,465.50 281.50,469.50" fill="none" stroke="#111" stroke-width="0.9"/>
<text x="268.20" y="464.55" font-size="6.8" font-weight="bold" text-anchor="middle" fill="#111" >***</text>
<text x="268.20" y="451.20" font-size="7.5" font-weight="bold" text-anchor="middle" fill="#111" >PANC-1</text>
<text transform="translate(210.80,505.80) rotate(-90)" x="0" y="2.63" font-size="7.3" font-weight="bold" text-anchor="middle" fill="#111" >NAT10 enrichment vs IgG</text>
<line x1="336.50" y1="465.95" x2="336.50" y2="555.25" stroke="#222" stroke-width="1.15"/>
<line x1="335.75" y1="554.50" x2="395.70" y2="554.50" stroke="#222" stroke-width="1.15"/>
<line x1="332.90" y1="466.50" x2="336.30" y2="466.50" stroke="#222" stroke-width="1.15"/>
<text x="331.90" y="468.88" font-size="6.6" font-weight="bold" text-anchor="end" fill="#111" >0.04</text>
<line x1="332.90" y1="488.50" x2="336.30" y2="488.50" stroke="#222" stroke-width="1.15"/>
<text x="331.90" y="490.98" font-size="6.6" font-weight="bold" text-anchor="end" fill="#111" >0.03</text>
<line x1="332.90" y1="510.50" x2="336.30" y2="510.50" stroke="#222" stroke-width="1.15"/>
<text x="331.90" y="512.98" font-size="6.6" font-weight="bold" text-anchor="end" fill="#111" >0.02</text>
<line x1="332.90" y1="532.50" x2="336.30" y2="532.50" stroke="#222" stroke-width="1.15"/>
<text x="331.90" y="535.08" font-size="6.6" font-weight="bold" text-anchor="end" fill="#111" >0.01</text>
<line x1="332.90" y1="554.50" x2="336.30" y2="554.50" stroke="#222" stroke-width="1.15"/>
<text x="331.90" y="557.08" font-size="6.6" font-weight="bold" text-anchor="end" fill="#111" >0.00</text>
<line x1="352.50" y1="554.70" x2="352.50" y2="558.70" stroke="#222" stroke-width="1.15"/>
<text x="352.90" y="565.38" font-size="6.9" font-weight="bold" text-anchor="middle" fill="#111" >IgG</text>
<line x1="378.50" y1="554.70" x2="378.50" y2="558.70" stroke="#222" stroke-width="1.15"/>
<text x="378.40" y="565.38" font-size="6.9" font-weight="bold" text-anchor="middle" fill="#111" >ETS2</text>
<line x1="353.50" y1="547.50" x2="353.50" y2="546.50" stroke="#6b2619" stroke-width="0.9"/>
<line x1="349.28" y1="546.50" x2="357.63" y2="546.50" stroke="#6b2619" stroke-width="0.9"/>
<rect x="345.10" y="547.50" width="16.70" height="7.20" fill="#6b2619" stroke="none" stroke-width="0" />
<line x1="378.50" y1="486.30" x2="378.50" y2="471.40" stroke="#e3c463" stroke-width="0.9"/>
<line x1="374.18" y1="471.50" x2="382.53" y2="471.50" stroke="#e3c463" stroke-width="0.9"/>
<rect x="370.00" y="486.30" width="16.70" height="68.40" fill="#e3c463" stroke="none" stroke-width="0" />
<polyline points="352.50,539.50 352.50,462.50 378.50,462.50 378.50,469.50" fill="none" stroke="#111" stroke-width="0.9"/>
<text x="365.70" y="463.85" font-size="6.8" font-weight="bold" text-anchor="middle" fill="#111" >**</text>
<text x="365.70" y="455.10" font-size="7.5" font-weight="bold" text-anchor="middle" fill="#111" >AsPC-1</text>
<text transform="translate(312.50,509.40) rotate(-90)" x="0" y="2.63" font-size="7.3" font-weight="bold" text-anchor="middle" fill="#111" >NAT10 enrichment vs IgG</text>
<line x1="238.50" y1="628.35" x2="238.50" y2="717.65" stroke="#222" stroke-width="1.15"/>
<line x1="238.25" y1="717.50" x2="295.80" y2="717.50" stroke="#222" stroke-width="1.15"/>
<line x1="235.40" y1="628.50" x2="238.80" y2="628.50" stroke="#222" stroke-width="1.15"/>
<text x="234.40" y="631.28" font-size="6.6" font-weight="bold" text-anchor="end" fill="#111" >0.025</text>
<line x1="235.40" y1="646.50" x2="238.80" y2="646.50" stroke="#222" stroke-width="1.15"/>
<text x="234.40" y="648.88" font-size="6.6" font-weight="bold" text-anchor="end" fill="#111" >0.020</text>
<line x1="235.40" y1="664.50" x2="238.80" y2="664.50" stroke="#222" stroke-width="1.15"/>
<text x="234.40" y="666.58" font-size="6.6" font-weight="bold" text-anchor="end" fill="#111" >0.015</text>
<line x1="235.40" y1="681.50" x2="238.80" y2="681.50" stroke="#222" stroke-width="1.15"/>
<text x="234.40" y="684.18" font-size="6.6" font-weight="bold" text-anchor="end" fill="#111" >0.010</text>
<line x1="235.40" y1="699.50" x2="238.80" y2="699.50" stroke="#222" stroke-width="1.15"/>
<text x="234.40" y="701.88" font-size="6.6" font-weight="bold" text-anchor="end" fill="#111" >0.005</text>
<line x1="235.40" y1="717.50" x2="238.80" y2="717.50" stroke="#222" stroke-width="1.15"/>
<text x="234.40" y="719.48" font-size="6.6" font-weight="bold" text-anchor="end" fill="#111" >0.000</text>
<line x1="254.50" y1="717.10" x2="254.50" y2="721.10" stroke="#222" stroke-width="1.15"/>
<text x="254.90" y="728.08" font-size="6.9" font-weight="bold" text-anchor="middle" fill="#111" >IgG</text>
<line x1="280.50" y1="717.10" x2="280.50" y2="721.10" stroke="#222" stroke-width="1.15"/>
<text x="280.30" y="728.08" font-size="6.9" font-weight="bold" text-anchor="middle" fill="#111" >ETS2</text>
<line x1="255.50" y1="710.40" x2="255.50" y2="709.50" stroke="#6b2619" stroke-width="0.9"/>
<line x1="251.38" y1="709.50" x2="259.53" y2="709.50" stroke="#6b2619" stroke-width="0.9"/>
<rect x="247.30" y="710.40" width="16.30" height="6.70" fill="#6b2619" stroke="none" stroke-width="0" />
<line x1="280.50" y1="646.70" x2="280.50" y2="637.40" stroke="#e3c463" stroke-width="0.9"/>
<line x1="276.55" y1="637.50" x2="284.85" y2="637.50" stroke="#e3c463" stroke-width="0.9"/>
<rect x="272.40" y="646.70" width="16.60" height="70.40" fill="#e3c463" stroke="none" stroke-width="0" />
<polyline points="254.50,708.50 254.50,628.50 280.50,628.50 280.50,632.50" fill="none" stroke="#111" stroke-width="0.9"/>
<text x="268.60" y="629.35" font-size="6.8" font-weight="bold" text-anchor="middle" fill="#111" >***</text>
<text x="267.70" y="617.60" font-size="7.5" font-weight="bold" text-anchor="middle" fill="#111" >PANC-1</text>
<text transform="translate(210.40,672.80) rotate(-90)" x="0" y="2.63" font-size="7.3" font-weight="bold" text-anchor="middle" fill="#111" >ETS2 enrichment vs IgG</text>
<line x1="336.50" y1="628.35" x2="336.50" y2="717.65" stroke="#222" stroke-width="1.15"/>
<line x1="336.05" y1="717.50" x2="395.00" y2="717.50" stroke="#222" stroke-width="1.15"/>
<line x1="333.20" y1="628.50" x2="336.60" y2="628.50" stroke="#222" stroke-width="1.15"/>
<text x="332.20" y="631.28" font-size="6.6" font-weight="bold" text-anchor="end" fill="#111" >0.03</text>
<line x1="333.20" y1="658.50" x2="336.60" y2="658.50" stroke="#222" stroke-width="1.15"/>
<text x="332.20" y="660.68" font-size="6.6" font-weight="bold" text-anchor="end" fill="#111" >0.02</text>
<line x1="333.20" y1="687.50" x2="336.60" y2="687.50" stroke="#222" stroke-width="1.15"/>
<text x="332.20" y="690.08" font-size="6.6" font-weight="bold" text-anchor="end" fill="#111" >0.01</text>
<line x1="333.20" y1="717.50" x2="336.60" y2="717.50" stroke="#222" stroke-width="1.15"/>
<text x="332.20" y="719.48" font-size="6.6" font-weight="bold" text-anchor="end" fill="#111" >0.00</text>
<line x1="353.50" y1="717.10" x2="353.50" y2="721.10" stroke="#222" stroke-width="1.15"/>
<text x="353.30" y="728.08" font-size="6.9" font-weight="bold" text-anchor="middle" fill="#111" >IgG</text>
<line x1="378.50" y1="717.10" x2="378.50" y2="721.10" stroke="#222" stroke-width="1.15"/>
<text x="378.10" y="728.08" font-size="6.9" font-weight="bold" text-anchor="middle" fill="#111" >ETS2</text>
<line x1="353.50" y1="712.40" x2="353.50" y2="711.00" stroke="#6b2619" stroke-width="0.9"/>
<line x1="349.33" y1="711.50" x2="357.77" y2="711.50" stroke="#6b2619" stroke-width="0.9"/>
<rect x="345.10" y="712.40" width="16.90" height="4.70" fill="#6b2619" stroke="none" stroke-width="0" />
<line x1="378.50" y1="657.80" x2="378.50" y2="644.70" stroke="#e3c463" stroke-width="0.9"/>
<line x1="374.15" y1="644.50" x2="382.65" y2="644.50" stroke="#e3c463" stroke-width="0.9"/>
<rect x="369.90" y="657.80" width="17.00" height="59.30" fill="#e3c463" stroke="none" stroke-width="0" />
<polyline points="353.50,710.50 353.50,635.50 378.50,635.50 378.50,642.50" fill="none" stroke="#111" stroke-width="0.9"/>
<text x="365.80" y="635.15" font-size="6.8" font-weight="bold" text-anchor="middle" fill="#111" >**</text>
<text x="365.80" y="617.60" font-size="7.5" font-weight="bold" text-anchor="middle" fill="#111" >AsPC-1</text>
<text transform="translate(311.90,672.80) rotate(-90)" x="0" y="2.63" font-size="7.3" font-weight="bold" text-anchor="middle" fill="#111" >ETS2 enrichment vs IgG</text>
<line x1="449.50" y1="462.85" x2="449.50" y2="558.05" stroke="#222" stroke-width="1.15"/>
<line x1="449.15" y1="557.50" x2="545.20" y2="557.50" stroke="#222" stroke-width="1.15"/>
<line x1="446.50" y1="463.50" x2="449.70" y2="463.50" stroke="#222" stroke-width="1.15"/>
<text x="445.90" y="466.10" font-size="7.5" font-weight="bold" text-anchor="end" fill="#111" >1.5</text>
<line x1="446.50" y1="494.50" x2="449.70" y2="494.50" stroke="#222" stroke-width="1.15"/>
<text x="445.90" y="497.50" font-size="7.5" font-weight="bold" text-anchor="end" fill="#111" >1.0</text>
<line x1="446.50" y1="526.50" x2="449.70" y2="526.50" stroke="#222" stroke-width="1.15"/>
<text x="445.90" y="528.80" font-size="7.5" font-weight="bold" text-anchor="end" fill="#111" >0.5</text>
<line x1="446.50" y1="557.50" x2="449.70" y2="557.50" stroke="#222" stroke-width="1.15"/>
<text x="445.90" y="560.20" font-size="7.5" font-weight="bold" text-anchor="end" fill="#111" >0.0</text>
<line x1="472.50" y1="557.50" x2="472.50" y2="561.30" stroke="#222" stroke-width="1.15"/>
<text x="472.10" y="569.24" font-size="6.5" font-weight="bold" text-anchor="middle" fill="#111" >si-NC</text>
<line x1="522.50" y1="557.50" x2="522.50" y2="561.30" stroke="#222" stroke-width="1.15"/>
<text x="522.40" y="569.24" font-size="6.5" font-weight="bold" text-anchor="middle" fill="#111" >si-ETS2</text>
<line x1="462.50" y1="490.10" x2="462.50" y2="489.30" stroke="#6b2619" stroke-width="0.9"/>
<line x1="459.47" y1="489.50" x2="465.82" y2="489.50" stroke="#6b2619" stroke-width="0.9"/>
<rect x="456.30" y="490.10" width="12.70" height="67.40" fill="#6b2619" stroke="none" stroke-width="0" />
<line x1="481.50" y1="493.80" x2="481.50" y2="491.80" stroke="#e3c463" stroke-width="0.9"/>
<line x1="478.57" y1="491.50" x2="484.93" y2="491.50" stroke="#e3c463" stroke-width="0.9"/>
<rect x="475.40" y="493.80" width="12.70" height="63.70" fill="#e3c463" stroke="none" stroke-width="0" />
<line x1="513.50" y1="524.70" x2="513.50" y2="521.80" stroke="#6b2619" stroke-width="0.9"/>
<line x1="510.28" y1="521.50" x2="516.62" y2="521.50" stroke="#6b2619" stroke-width="0.9"/>
<rect x="507.10" y="524.70" width="12.70" height="32.80" fill="#6b2619" stroke="none" stroke-width="0" />
<line x1="532.50" y1="493.80" x2="532.50" y2="493.00" stroke="#e3c463" stroke-width="0.9"/>
<line x1="529.02" y1="493.50" x2="535.27" y2="493.50" stroke="#e3c463" stroke-width="0.9"/>
<rect x="525.90" y="493.80" width="12.50" height="63.70" fill="#e3c463" stroke="none" stroke-width="0" />
<polyline points="462.50,489.50 462.50,483.50 513.50,483.50 513.50,519.50" fill="none" stroke="#111" stroke-width="1"/>
<polyline points="516.50,519.50 516.50,483.50 532.50,483.50 532.50,489.50" fill="none" stroke="#111" stroke-width="1"/>
<text x="490.20" y="484.69" font-size="7.2" font-weight="bold" text-anchor="middle" fill="#111" >***</text>
<text x="524.60" y="484.69" font-size="7.2" font-weight="bold" text-anchor="middle" fill="#111" >***</text>
<rect x="452.40" y="458.70" width="9.40" height="3.80" fill="#6b2619" stroke="none" stroke-width="0" />
<text x="467.30" y="462.92" font-size="6.45" font-weight="bold" text-anchor="start" fill="#111" >NAT10 mRNA-WT</text>
<rect x="452.40" y="470.00" width="9.40" height="3.80" fill="#e3c463" stroke="none" stroke-width="0" />
<text x="467.30" y="474.22" font-size="6.45" font-weight="bold" text-anchor="start" fill="#111" >NAT10 mRNA-Mutation</text>
<text x="496.20" y="451.24" font-size="7.6" font-weight="bold" text-anchor="middle" fill="#111" >PANC-1</text>
<text transform="translate(418.20,510.00) rotate(-90) scale(0.9,1)" x="0" y="3.16" font-size="8.78" font-weight="bold" text-anchor="middle" fill="#111" >Relative luciferase activity</text>
<text transform="translate(427.10,510.00) rotate(-90) scale(0.9,1)" x="0" y="3.16" font-size="8.78" font-weight="bold" text-anchor="middle" fill="#111" >(normalized to siNC)</text>
<line x1="589.50" y1="462.85" x2="589.50" y2="558.05" stroke="#222" stroke-width="1.15"/>
<line x1="588.75" y1="557.50" x2="684.00" y2="557.50" stroke="#222" stroke-width="1.15"/>
<line x1="586.10" y1="463.50" x2="589.30" y2="463.50" stroke="#222" stroke-width="1.15"/>
<text x="585.50" y="466.10" font-size="7.5" font-weight="bold" text-anchor="end" fill="#111" >1.5</text>
<line x1="586.10" y1="494.50" x2="589.30" y2="494.50" stroke="#222" stroke-width="1.15"/>
<text x="585.50" y="497.50" font-size="7.5" font-weight="bold" text-anchor="end" fill="#111" >1.0</text>
<line x1="586.10" y1="526.50" x2="589.30" y2="526.50" stroke="#222" stroke-width="1.15"/>
<text x="585.50" y="528.80" font-size="7.5" font-weight="bold" text-anchor="end" fill="#111" >0.5</text>
<line x1="586.10" y1="557.50" x2="589.30" y2="557.50" stroke="#222" stroke-width="1.15"/>
<text x="585.50" y="560.20" font-size="7.5" font-weight="bold" text-anchor="end" fill="#111" >0.0</text>
<line x1="611.50" y1="557.50" x2="611.50" y2="561.30" stroke="#222" stroke-width="1.15"/>
<text x="611.60" y="568.94" font-size="6.5" font-weight="bold" text-anchor="middle" fill="#111" >si-NC</text>
<line x1="661.50" y1="557.50" x2="661.50" y2="561.30" stroke="#222" stroke-width="1.15"/>
<text x="661.60" y="568.94" font-size="6.5" font-weight="bold" text-anchor="middle" fill="#111" >si-ETS2</text>
<line x1="602.50" y1="492.90" x2="602.50" y2="491.20" stroke="#6b2619" stroke-width="0.9"/>
<line x1="599.02" y1="491.50" x2="605.27" y2="491.50" stroke="#6b2619" stroke-width="0.9"/>
<rect x="595.90" y="492.90" width="12.50" height="64.60" fill="#6b2619" stroke="none" stroke-width="0" />
<line x1="621.50" y1="493.80" x2="621.50" y2="493.00" stroke="#e3c463" stroke-width="0.9"/>
<line x1="618.02" y1="493.50" x2="624.27" y2="493.50" stroke="#e3c463" stroke-width="0.9"/>
<rect x="614.90" y="493.80" width="12.50" height="63.70" fill="#e3c463" stroke="none" stroke-width="0" />
<line x1="652.50" y1="521.80" x2="652.50" y2="520.30" stroke="#6b2619" stroke-width="0.9"/>
<line x1="649.33" y1="520.50" x2="655.58" y2="520.50" stroke="#6b2619" stroke-width="0.9"/>
<rect x="646.20" y="521.80" width="12.50" height="35.70" fill="#6b2619" stroke="none" stroke-width="0" />
<line x1="671.50" y1="489.60" x2="671.50" y2="488.80" stroke="#e3c463" stroke-width="0.9"/>
<line x1="668.42" y1="488.50" x2="674.67" y2="488.50" stroke="#e3c463" stroke-width="0.9"/>
<rect x="665.30" y="489.60" width="12.50" height="67.90" fill="#e3c463" stroke="none" stroke-width="0" />
<polyline points="601.50,489.50 601.50,484.50 652.50,484.50 652.50,516.50" fill="none" stroke="#111" stroke-width="1"/>
<polyline points="656.50,516.50 656.50,484.50 671.50,484.50 671.50,487.50" fill="none" stroke="#111" stroke-width="1"/>
<text x="628.10" y="485.09" font-size="7.2" font-weight="bold" text-anchor="middle" fill="#111" >***</text>
<text x="664.20" y="485.09" font-size="7.2" font-weight="bold" text-anchor="middle" fill="#111" >***</text>
<rect x="591.50" y="458.70" width="9.60" height="3.80" fill="#6b2619" stroke="none" stroke-width="0" />
<text x="606.80" y="462.92" font-size="6.45" font-weight="bold" text-anchor="start" fill="#111" >NAT10 mRNA-WT</text>
<rect x="591.50" y="470.00" width="9.60" height="3.80" fill="#e3c463" stroke="none" stroke-width="0" />
<text x="606.80" y="474.22" font-size="6.45" font-weight="bold" text-anchor="start" fill="#111" >NAT10 mRNA-Mutation</text>
<text x="636.20" y="451.24" font-size="7.6" font-weight="bold" text-anchor="middle" fill="#111" >AsPC-1</text>
<text transform="translate(557.80,510.00) rotate(-90) scale(0.9,1)" x="0" y="3.16" font-size="8.78" font-weight="bold" text-anchor="middle" fill="#111" >Relative luciferase activity</text>
<text transform="translate(567.10,510.00) rotate(-90) scale(0.9,1)" x="0" y="3.16" font-size="8.78" font-weight="bold" text-anchor="middle" fill="#111" >(normalized to siNC)</text>
<line x1="442.50" y1="622.15" x2="442.50" y2="723.35" stroke="#222" stroke-width="1.15"/>
<line x1="442.15" y1="722.50" x2="543.30" y2="722.50" stroke="#222" stroke-width="1.15"/>
<line x1="439.50" y1="622.50" x2="442.70" y2="622.50" stroke="#222" stroke-width="1.15"/>
<text x="438.90" y="625.40" font-size="7.5" font-weight="bold" text-anchor="end" fill="#111" >1.5</text>
<line x1="439.50" y1="656.50" x2="442.70" y2="656.50" stroke="#222" stroke-width="1.15"/>
<text x="438.90" y="658.80" font-size="7.5" font-weight="bold" text-anchor="end" fill="#111" >1.0</text>
<line x1="439.50" y1="689.50" x2="442.70" y2="689.50" stroke="#222" stroke-width="1.15"/>
<text x="438.90" y="692.20" font-size="7.5" font-weight="bold" text-anchor="end" fill="#111" >0.5</text>
<line x1="439.50" y1="722.50" x2="442.70" y2="722.50" stroke="#222" stroke-width="1.15"/>
<text x="438.90" y="725.50" font-size="7.5" font-weight="bold" text-anchor="end" fill="#111" >0.0</text>
<line x1="466.50" y1="722.80" x2="466.50" y2="726.60" stroke="#222" stroke-width="1.15"/>
<text x="466.50" y="733.62" font-size="7.0" font-weight="bold" text-anchor="middle" fill="#111" >si-NC</text>
<line x1="519.50" y1="722.80" x2="519.50" y2="726.60" stroke="#222" stroke-width="1.15"/>
<text x="519.50" y="733.62" font-size="7.0" font-weight="bold" text-anchor="middle" fill="#111" >si-ETS2</text>
<line x1="456.50" y1="655.10" x2="456.50" y2="653.60" stroke="#6b2619" stroke-width="0.9"/>
<line x1="453.00" y1="653.50" x2="459.60" y2="653.50" stroke="#6b2619" stroke-width="0.9"/>
<rect x="449.70" y="655.10" width="13.20" height="67.70" fill="#6b2619" stroke="none" stroke-width="0" />
<line x1="476.50" y1="652.90" x2="476.50" y2="649.60" stroke="#e3c463" stroke-width="0.9"/>
<line x1="473.17" y1="649.50" x2="479.73" y2="649.50" stroke="#e3c463" stroke-width="0.9"/>
<rect x="469.90" y="652.90" width="13.10" height="69.90" fill="#e3c463" stroke="none" stroke-width="0" />
<line x1="509.50" y1="678.50" x2="509.50" y2="677.40" stroke="#6b2619" stroke-width="0.9"/>
<line x1="506.20" y1="677.50" x2="512.80" y2="677.50" stroke="#6b2619" stroke-width="0.9"/>
<rect x="502.90" y="678.50" width="13.20" height="44.30" fill="#6b2619" stroke="none" stroke-width="0" />
<line x1="529.50" y1="654.40" x2="529.50" y2="651.80" stroke="#e3c463" stroke-width="0.9"/>
<line x1="526.38" y1="651.50" x2="532.93" y2="651.50" stroke="#e3c463" stroke-width="0.9"/>
<rect x="523.10" y="654.40" width="13.10" height="68.40" fill="#e3c463" stroke="none" stroke-width="0" />
<polyline points="456.50,653.50 456.50,646.50 509.50,646.50 509.50,673.50" fill="none" stroke="#111" stroke-width="1"/>
<polyline points="512.50,673.50 512.50,646.50 529.50,646.50 529.50,650.50" fill="none" stroke="#111" stroke-width="1"/>
<text x="483.70" y="647.29" font-size="7.2" font-weight="bold" text-anchor="middle" fill="#111" >***</text>
<text x="521.60" y="647.29" font-size="7.2" font-weight="bold" text-anchor="middle" fill="#111" >***</text>
<rect x="448.20" y="619.10" width="10.30" height="4.00" fill="#6b2619" stroke="none" stroke-width="0" />
<text x="464.60" y="623.57" font-size="6.85" font-weight="bold" text-anchor="start" fill="#111" >PD-L1 mRNA-WT</text>
<rect x="448.20" y="630.90" width="10.30" height="4.00" fill="#e3c463" stroke="none" stroke-width="0" />
<text x="464.60" y="635.37" font-size="6.85" font-weight="bold" text-anchor="start" fill="#111" >PD-L1 mRNA-Mutation</text>
<text x="492.40" y="610.52" font-size="8.1" font-weight="bold" text-anchor="middle" fill="#111" >PANC-1</text>
<text transform="translate(409.40,672.50) rotate(-90)" x="0" y="2.99" font-size="8.3" font-weight="bold" text-anchor="middle" fill="#111" >Relative luciferase activity</text>
<text transform="translate(419.10,672.50) rotate(-90)" x="0" y="2.99" font-size="8.3" font-weight="bold" text-anchor="middle" fill="#111" >(normalized to siNC)</text>
<line x1="587.50" y1="624.35" x2="587.50" y2="721.75" stroke="#222" stroke-width="1.15"/>
<line x1="587.05" y1="721.50" x2="685.00" y2="721.50" stroke="#222" stroke-width="1.15"/>
<line x1="584.40" y1="624.50" x2="587.60" y2="624.50" stroke="#222" stroke-width="1.15"/>
<text x="583.80" y="627.60" font-size="7.5" font-weight="bold" text-anchor="end" fill="#111" >1.5</text>
<line x1="584.40" y1="657.50" x2="587.60" y2="657.50" stroke="#222" stroke-width="1.15"/>
<text x="583.80" y="659.70" font-size="7.5" font-weight="bold" text-anchor="end" fill="#111" >1.0</text>
<line x1="584.40" y1="689.50" x2="587.60" y2="689.50" stroke="#222" stroke-width="1.15"/>
<text x="583.80" y="691.80" font-size="7.5" font-weight="bold" text-anchor="end" fill="#111" >0.5</text>
<line x1="584.40" y1="721.50" x2="587.60" y2="721.50" stroke="#222" stroke-width="1.15"/>
<text x="583.80" y="723.90" font-size="7.5" font-weight="bold" text-anchor="end" fill="#111" >0.0</text>
<line x1="610.50" y1="721.20" x2="610.50" y2="725.00" stroke="#222" stroke-width="1.15"/>
<text x="610.00" y="733.12" font-size="7.0" font-weight="bold" text-anchor="middle" fill="#111" >si-NC</text>
<line x1="662.50" y1="721.20" x2="662.50" y2="725.00" stroke="#222" stroke-width="1.15"/>
<text x="662.00" y="733.12" font-size="7.0" font-weight="bold" text-anchor="middle" fill="#111" >si-ETS2</text>
<line x1="600.50" y1="654.90" x2="600.50" y2="653.40" stroke="#6b2619" stroke-width="0.9"/>
<line x1="597.28" y1="653.50" x2="603.62" y2="653.50" stroke="#6b2619" stroke-width="0.9"/>
<rect x="594.10" y="654.90" width="12.70" height="66.30" fill="#6b2619" stroke="none" stroke-width="0" />
<line x1="619.50" y1="654.00" x2="619.50" y2="650.50" stroke="#e3c463" stroke-width="0.9"/>
<line x1="616.58" y1="650.50" x2="622.92" y2="650.50" stroke="#e3c463" stroke-width="0.9"/>
<rect x="613.40" y="654.00" width="12.70" height="67.20" fill="#e3c463" stroke="none" stroke-width="0" />
<line x1="652.50" y1="678.50" x2="652.50" y2="677.80" stroke="#6b2619" stroke-width="0.9"/>
<line x1="648.88" y1="677.50" x2="655.43" y2="677.50" stroke="#6b2619" stroke-width="0.9"/>
<rect x="645.60" y="678.50" width="13.10" height="42.70" fill="#6b2619" stroke="none" stroke-width="0" />
<line x1="671.50" y1="654.00" x2="671.50" y2="651.20" stroke="#e3c463" stroke-width="0.9"/>
<line x1="668.42" y1="651.50" x2="674.67" y2="651.50" stroke="#e3c463" stroke-width="0.9"/>
<rect x="665.30" y="654.00" width="12.50" height="67.20" fill="#e3c463" stroke="none" stroke-width="0" />
<polyline points="600.50,652.50 600.50,647.50 652.50,647.50 652.50,671.50" fill="none" stroke="#111" stroke-width="1"/>
<polyline points="654.50,671.50 654.50,647.50 671.50,647.50 671.50,650.50" fill="none" stroke="#111" stroke-width="1"/>
<text x="624.30" y="647.99" font-size="7.2" font-weight="bold" text-anchor="middle" fill="#111" >***</text>
<text x="662.40" y="647.99" font-size="7.2" font-weight="bold" text-anchor="middle" fill="#111" >***</text>
<rect x="593.00" y="620.05" width="10.30" height="3.70" fill="#6b2619" stroke="none" stroke-width="0" />
<text x="609.00" y="624.37" font-size="6.85" font-weight="bold" text-anchor="start" fill="#111" >PD-L1 mRNA-WT</text>
<rect x="593.00" y="631.45" width="10.30" height="3.70" fill="#e3c463" stroke="none" stroke-width="0" />
<text x="609.00" y="635.77" font-size="6.85" font-weight="bold" text-anchor="start" fill="#111" >PD-L1 mRNA-Mutation</text>
<text x="634.60" y="612.02" font-size="8.1" font-weight="bold" text-anchor="middle" fill="#111" >AsPC-1</text>
<text transform="translate(554.80,672.90) rotate(-90)" x="0" y="2.92" font-size="8.1" font-weight="bold" text-anchor="middle" fill="#111" >Relative luciferase activity</text>
<text transform="translate(564.90,672.90) rotate(-90)" x="0" y="2.92" font-size="8.1" font-weight="bold" text-anchor="middle" fill="#111" >(normalized to siNC)</text>
<rect x="0.70" y="453.20" width="204.80" height="103.80" fill="none" stroke="#777" stroke-width="0.8" />
<circle cx="47.3" cy="499.8" r="29.8" fill="none" stroke="#2c5b8e" stroke-width="5"/>
<path d="M26.44,478.94 A29.5,29.5 0 0 1 61.60,474.00" fill="none" stroke="#b83231" stroke-width="7.2"/>
<polygon points="65.20,468.80 66.06,477.04 57.13,479.01" fill="#b83231"/>
<path d="M70.78,481.45 A29.8,29.8 0 0 1 72.84,515.15" fill="none" stroke="#e0ad47" stroke-width="8.4"/>
<path d="M66.85,522.29 A29.8,29.8 0 0 1 46.26,529.58" fill="none" stroke="#df8432" stroke-width="8.4"/>
<path d="M37.60,527.98 A29.8,29.8 0 0 1 17.52,500.84" fill="none" stroke="#e0ad47" stroke-width="8.4"/>
<text x="44.80" y="463.26" font-size="4.6" font-weight="bold" text-anchor="middle" fill="#111" >Promoter</text>
<text x="46.80" y="499.16" font-size="4.6" font-weight="bold" text-anchor="middle" fill="#111" >GV272</text>
<text transform="translate(85.80,497.60) rotate(90)" x="0" y="1.62" font-size="4.5" font-weight="bold" text-anchor="middle" fill="#111" >Firefly Luciferase</text>
<text transform="translate(13.70,521.40) rotate(58)" x="0" y="1.62" font-size="4.5" font-weight="bold" text-anchor="middle" fill="#111" >Renilla Luciferase</text>
<text transform="translate(62.70,538.00) rotate(-30)" x="0" y="1.62" font-size="4.5" font-weight="bold" text-anchor="middle" fill="#111" >ETS2 CDS-WT</text>
<circle cx="154.8" cy="500.0" r="29.8" fill="none" stroke="#2c5b8e" stroke-width="5"/>
<path d="M133.94,479.14 A29.5,29.5 0 0 1 169.10,474.20" fill="none" stroke="#b83231" stroke-width="7.2"/>
<polygon points="172.70,469.00 173.56,477.24 164.63,479.21" fill="#b83231"/>
<path d="M178.28,481.65 A29.8,29.8 0 0 1 180.34,515.35" fill="none" stroke="#e0ad47" stroke-width="8.4"/>
<path d="M174.35,522.49 A29.8,29.8 0 0 1 153.76,529.78" fill="none" stroke="#5db14c" stroke-width="8.4"/>
<path d="M145.10,528.18 A29.8,29.8 0 0 1 125.02,501.04" fill="none" stroke="#e0ad47" stroke-width="8.4"/>
<text x="152.30" y="463.46" font-size="4.6" font-weight="bold" text-anchor="middle" fill="#111" >Promoter</text>
<text x="154.30" y="499.36" font-size="4.6" font-weight="bold" text-anchor="middle" fill="#111" >GV272</text>
<text transform="translate(193.60,495.30) rotate(90)" x="0" y="1.62" font-size="4.5" font-weight="bold" text-anchor="middle" fill="#111" >Firefly Luciferase</text>
<text transform="translate(119.30,518.40) rotate(58)" x="0" y="1.62" font-size="4.5" font-weight="bold" text-anchor="middle" fill="#111" >Renilla Luciferase</text>
<text transform="translate(166.60,538.00) rotate(-30)" x="0" y="1.62" font-size="4.5" font-weight="bold" text-anchor="middle" fill="#111" >ETS2 CDS-</text>
<text transform="translate(180.20,538.60) rotate(-30)" x="0" y="1.62" font-size="4.5" font-weight="bold" text-anchor="middle" fill="#111" >Mutation(C3682051A)</text>
<rect x="17.60" y="577.40" width="170.80" height="76.20" fill="none" stroke="#777" stroke-width="0.8" />
<rect x="17.80" y="663.60" width="170.70" height="75.60" fill="none" stroke="#777" stroke-width="0.8" />
<text x="120.50" y="584.72" font-size="5.9" font-weight="bold" text-anchor="middle" fill="#111" >ACAGGAAGC</text>
<rect x="69.40" y="596.40" width="101.60" height="7.00" fill="#b5302a" stroke="#5c1c12" stroke-width="0.6" />
<rect x="114.30" y="592.40" width="11.10" height="15.00" fill="#e3b04b" stroke="#333" stroke-width="0.6" />
<polyline points="154.50,596.50 154.50,585.50 175.50,585.50" fill="none" stroke="#222" stroke-width="0.85"/>
<polygon points="179.0,585.00 174.2,583.30 174.2,586.70" fill="#222"/>
<text x="177.00" y="595.40" font-size="6.4" font-weight="bold" text-anchor="middle" fill="#111" >NAT10</text>
<text x="107.20" y="594.64" font-size="6.5" font-weight="normal" text-anchor="middle" fill="#111" >525</text>
<text x="132.20" y="594.64" font-size="6.5" font-weight="normal" text-anchor="middle" fill="#111" >533</text>
<rect x="69.40" y="626.10" width="101.60" height="7.00" fill="#b5302a" stroke="#5c1c12" stroke-width="0.6" />
<rect x="114.30" y="622.10" width="11.10" height="15.00" fill="#e3b04b" stroke="#333" stroke-width="0.6" />
<polyline points="154.50,626.50 154.50,614.50 175.50,614.50" fill="none" stroke="#222" stroke-width="0.85"/>
<polygon points="179.0,614.10 174.2,612.40 174.2,615.80" fill="#222"/>
<line x1="152.60" y1="617.10" x2="156.90" y2="625.00" stroke="#333" stroke-width="0.6"/>
<line x1="156.80" y1="617.10" x2="152.40" y2="625.00" stroke="#333" stroke-width="0.6"/>
<text x="177.00" y="624.50" font-size="6.4" font-weight="bold" text-anchor="middle" fill="#111" >NAT10</text>
<text x="107.20" y="622.24" font-size="6.5" font-weight="normal" text-anchor="middle" fill="#111" >525</text>
<text x="132.20" y="622.24" font-size="6.5" font-weight="normal" text-anchor="middle" fill="#111" >533</text>
<text x="120.10" y="647.86" font-size="6.0" font-weight="bold" text-anchor="middle" fill="#111" >CTGCTTGCA</text>
<text x="24.20" y="597.97" font-size="6.3" font-weight="bold" text-anchor="start" fill="#111" >NAT10</text>
<text x="24.20" y="606.47" font-size="6.3" font-weight="bold" text-anchor="start" fill="#111" >promoter-1</text>
<text x="24.20" y="622.17" font-size="6.3" font-weight="bold" text-anchor="start" fill="#111" >NAT10</text>
<text x="24.20" y="630.07" font-size="6.3" font-weight="bold" text-anchor="start" fill="#111" >promoter-1</text>
<text x="24.20" y="637.07" font-size="6.3" font-weight="bold" text-anchor="start" fill="#111" >MUT</text>
<text x="122.00" y="675.52" font-size="5.9" font-weight="bold" text-anchor="middle" fill="#111" >GCTTCCGCC</text>
<rect x="69.40" y="686.80" width="101.60" height="7.00" fill="#b5302a" stroke="#5c1c12" stroke-width="0.6" />
<rect x="114.30" y="682.80" width="11.10" height="15.00" fill="#e3b04b" stroke="#333" stroke-width="0.6" />
<polyline points="154.50,686.50 154.50,675.50 175.50,675.50" fill="none" stroke="#222" stroke-width="0.85"/>
<polygon points="179.0,675.60 174.2,673.90 174.2,677.30" fill="#222"/>
<text x="175.50" y="685.10" font-size="6.4" font-weight="bold" text-anchor="middle" fill="#111" >PD-L1</text>
<text x="105.30" y="685.54" font-size="6.5" font-weight="normal" text-anchor="middle" fill="#111" >94</text>
<text x="133.60" y="685.54" font-size="6.5" font-weight="normal" text-anchor="middle" fill="#111" >102</text>
<rect x="69.40" y="715.90" width="101.60" height="7.00" fill="#b5302a" stroke="#5c1c12" stroke-width="0.6" />
<rect x="114.30" y="711.90" width="11.10" height="15.00" fill="#e3b04b" stroke="#333" stroke-width="0.6" />
<polyline points="154.50,715.50 154.50,704.50 175.50,704.50" fill="none" stroke="#222" stroke-width="0.85"/>
<polygon points="179.0,704.10 174.2,702.40 174.2,705.80" fill="#222"/>
<line x1="152.60" y1="707.10" x2="156.90" y2="714.80" stroke="#333" stroke-width="0.6"/>
<line x1="156.80" y1="707.10" x2="152.40" y2="714.80" stroke="#333" stroke-width="0.6"/>
<text x="175.50" y="714.00" font-size="6.4" font-weight="bold" text-anchor="middle" fill="#111" >PD-L1</text>
<text x="105.30" y="710.44" font-size="6.5" font-weight="normal" text-anchor="middle" fill="#111" >94</text>
<text x="133.20" y="710.44" font-size="6.5" font-weight="normal" text-anchor="middle" fill="#111" >102</text>
<text x="121.70" y="734.46" font-size="6.0" font-weight="bold" text-anchor="middle" fill="#111" >CTGCTTGCA</text>
<text x="24.50" y="687.97" font-size="6.3" font-weight="bold" text-anchor="start" fill="#111" >PD-L1</text>
<text x="24.50" y="696.27" font-size="6.3" font-weight="bold" text-anchor="start" fill="#111" >promoter-1</text>
<text x="24.50" y="713.37" font-size="6.3" font-weight="bold" text-anchor="start" fill="#111" >PD-L1</text>
<text x="24.50" y="721.67" font-size="6.3" font-weight="bold" text-anchor="start" fill="#111" >promoter-1</text>
<text x="24.50" y="728.87" font-size="6.3" font-weight="bold" text-anchor="start" fill="#111" >MUT</text>
<text transform="translate(6.00,14.30) scale(0.92,1)" font-size="13.2" font-weight="bold" fill="#000">A</text>
<text transform="translate(343.00,14.30) scale(0.8,1)" font-size="13.2" font-weight="bold" fill="#000">B</text>
<text transform="translate(6.00,139.67) scale(0.9,1)" font-size="13.0" font-weight="bold" fill="#000">C</text>
<text transform="translate(187.80,136.30) scale(0.8,1)" font-size="13.4" font-weight="bold" fill="#000">D</text>
<text transform="translate(360.00,139.70) scale(0.82,1)" font-size="13.4" font-weight="bold" fill="#000">E</text>
<text transform="translate(6.00,270.80) scale(0.78,1)" font-size="13.6" font-weight="bold" fill="#000">F</text>
<text transform="translate(364.80,270.67) scale(0.86,1)" font-size="13.0" font-weight="bold" fill="#000">G</text>
<text transform="translate(6.00,441.80) scale(0.8,1)" font-size="13.1" font-weight="bold" fill="#000">H</text>
<text transform="translate(5.80,583.60) scale(1.0,1)" font-size="12.9" font-weight="bold" fill="#000">I</text>
<text transform="translate(218.90,441.75) scale(0.78,1)" font-size="14.8" font-weight="bold" fill="#000">J</text>
<text transform="translate(218.90,583.90) scale(0.86,1)" font-size="15.2" font-weight="normal" fill="#000">K</text>
<text transform="translate(401.90,441.70) scale(0.75,1)" font-size="15.0" font-weight="bold" fill="#000">L</text>
<text transform="translate(401.90,583.90) scale(0.82,1)" font-size="15.0" font-weight="bold" fill="#000">M</text>
</svg></body></html>
